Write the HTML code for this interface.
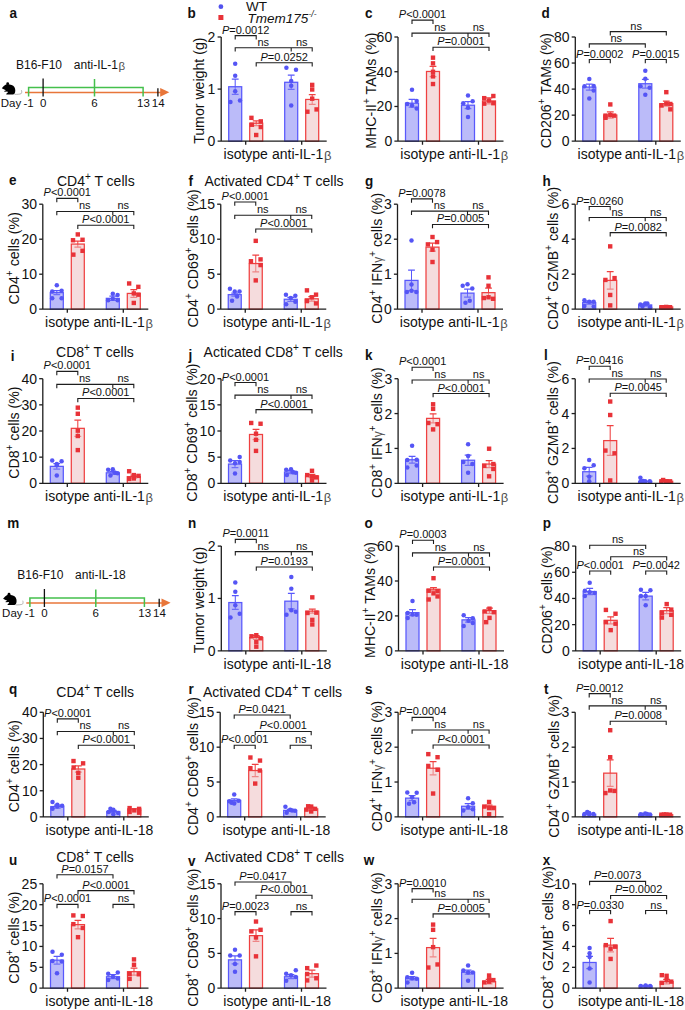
<!DOCTYPE html>
<html><head><meta charset="utf-8"><style>
html,body{margin:0;padding:0;background:#fff;}
svg{display:block;font-family:"Liberation Sans", sans-serif;}
</style></head><body>
<svg width="685" height="1010" viewBox="0 0 685 1010">
<rect width="685" height="1010" fill="#fff"/>
<path d="M235.20 79.07V94.39" stroke="#5858fc" stroke-width="1.05" fill="none"/>
<path d="M231.80 79.07H238.60M231.80 94.39H238.60" stroke="#5858fc" stroke-width="1.25" fill="none"/>
<rect x="228.70" y="86.73" width="13.00" height="54.47" fill="rgb(131,131,244)" fill-opacity="0.55" stroke="#5858fc" stroke-width="1.25"/>
<path d="M256.20 120.91V125.51" stroke="#ef4040" stroke-width="1.05" fill="none"/>
<path d="M252.80 120.91H259.60M252.80 125.51H259.60" stroke="#ef4040" stroke-width="1.25" fill="none"/>
<rect x="249.70" y="123.21" width="13.00" height="17.99" fill="rgb(237,191,193)" fill-opacity="0.55" stroke="#ef4040" stroke-width="1.25"/>
<path d="M291.20 75.23V89.34" stroke="#5858fc" stroke-width="1.05" fill="none"/>
<path d="M287.80 75.23H294.60M287.80 89.34H294.60" stroke="#5858fc" stroke-width="1.25" fill="none"/>
<rect x="284.70" y="82.28" width="13.00" height="58.92" fill="rgb(131,131,244)" fill-opacity="0.55" stroke="#5858fc" stroke-width="1.25"/>
<path d="M312.20 94.55V104.36" stroke="#ef4040" stroke-width="1.05" fill="none"/>
<path d="M308.80 94.55H315.60M308.80 104.36H315.60" stroke="#ef4040" stroke-width="1.25" fill="none"/>
<rect x="305.70" y="99.45" width="13.00" height="41.75" fill="rgb(237,191,193)" fill-opacity="0.55" stroke="#ef4040" stroke-width="1.25"/>
<circle cx="235.20" cy="63.74" r="2.25" fill="#5555f5"/>
<circle cx="235.20" cy="75.69" r="2.25" fill="#5555f5"/>
<circle cx="235.20" cy="91.33" r="2.25" fill="#5555f5"/>
<circle cx="230.43" cy="102.06" r="2.25" fill="#5555f5"/>
<circle cx="240.00" cy="100.53" r="2.25" fill="#5555f5"/>
<rect x="249.23" y="115.65" width="4.4" height="4.4" fill="#e83238"/>
<rect x="258.58" y="119.17" width="4.4" height="4.4" fill="#e83238"/>
<rect x="249.69" y="122.54" width="4.4" height="4.4" fill="#e83238"/>
<rect x="258.58" y="124.84" width="4.4" height="4.4" fill="#e83238"/>
<rect x="254.00" y="132.81" width="4.4" height="4.4" fill="#e83238"/>
<circle cx="286.40" cy="67.72" r="2.25" fill="#5555f5"/>
<circle cx="296.00" cy="69.87" r="2.25" fill="#5555f5"/>
<circle cx="291.20" cy="81.06" r="2.25" fill="#5555f5"/>
<circle cx="291.20" cy="85.66" r="2.25" fill="#5555f5"/>
<circle cx="291.20" cy="105.58" r="2.25" fill="#5555f5"/>
<rect x="310.00" y="82.69" width="4.4" height="4.4" fill="#e83238"/>
<rect x="310.00" y="87.29" width="4.4" height="4.4" fill="#e83238"/>
<rect x="310.00" y="96.49" width="4.4" height="4.4" fill="#e83238"/>
<rect x="305.20" y="109.52" width="4.4" height="4.4" fill="#e83238"/>
<rect x="314.38" y="107.22" width="4.4" height="4.4" fill="#e83238"/>
<path d="M221.20 37.00V141.20M217.60 141.20H326.70M245.70 141.20v3.6M301.70 141.20v3.6" stroke="#1e1e1e" stroke-width="1.3" fill="none"/>
<text x="215.40" y="146.20" font-size="14" text-anchor="end" fill="#111" >0</text>
<path d="M217.60 89.10H221.20" stroke="#1e1e1e" stroke-width="1.3"/>
<text x="215.40" y="94.10" font-size="14" text-anchor="end" fill="#111" >1</text>
<path d="M217.60 37.00H221.20" stroke="#1e1e1e" stroke-width="1.3"/>
<text x="215.40" y="42.00" font-size="14" text-anchor="end" fill="#111" >2</text>
<text x="245.70" y="159.00" font-size="14" text-anchor="middle" fill="#111" >isotype</text>
<text x="301.70" y="159.00" font-size="14" text-anchor="middle" fill="#111" >anti-IL-1<tspan dx="0.65" dy="1.17" font-size="13" fill="#505050">β</tspan><tspan dy="-1.17"></tspan></text>
<text transform="translate(204.20,90.70) rotate(-90)" font-size="14.15" text-anchor="middle" fill="#111">Tumor weight (g)</text>
<path d="M235.20 39.40V35.60H256.20V39.40" stroke="#1e1e1e" stroke-width="1.1" fill="none"/>
<text x="245.70" y="33.60" font-size="11" text-anchor="middle" fill="#111" ><tspan font-style="italic">P</tspan>=0.0012</text>
<path d="M235.20 51.49V47.69H312.20V51.49M291.20 47.69v3.8" stroke="#1e1e1e" stroke-width="1.1" fill="none"/>
<text x="263.20" y="45.69" font-size="11" text-anchor="middle" fill="#111" >ns</text>
<text x="301.70" y="45.69" font-size="11" text-anchor="middle" fill="#111" >ns</text>
<path d="M256.20 66.50V62.70H312.20V66.50" stroke="#1e1e1e" stroke-width="1.1" fill="none"/>
<text x="284.20" y="60.70" font-size="11" text-anchor="middle" fill="#111" ><tspan font-style="italic">P</tspan>=0.0252</text>
<text transform="translate(187.50,17.50) scale(1,1.09)" font-size="13.5" font-weight="bold" fill="#111">b</text>
<path d="M412.00 99.37V107.04" stroke="#5858fc" stroke-width="1.05" fill="none"/>
<path d="M408.60 99.37H415.40M408.60 107.04H415.40" stroke="#5858fc" stroke-width="1.25" fill="none"/>
<rect x="405.50" y="103.20" width="13.00" height="38.00" fill="rgb(131,131,244)" fill-opacity="0.55" stroke="#5858fc" stroke-width="1.25"/>
<path d="M433.00 66.42V76.53" stroke="#ef4040" stroke-width="1.05" fill="none"/>
<path d="M429.60 66.42H436.40M429.60 76.53H436.40" stroke="#ef4040" stroke-width="1.25" fill="none"/>
<rect x="426.50" y="71.47" width="13.00" height="69.73" fill="rgb(237,191,193)" fill-opacity="0.55" stroke="#ef4040" stroke-width="1.25"/>
<path d="M468.00 101.67V108.72" stroke="#5858fc" stroke-width="1.05" fill="none"/>
<path d="M464.60 101.67H471.40M464.60 108.72H471.40" stroke="#5858fc" stroke-width="1.25" fill="none"/>
<rect x="461.50" y="105.20" width="13.00" height="36.00" fill="rgb(131,131,244)" fill-opacity="0.55" stroke="#5858fc" stroke-width="1.25"/>
<path d="M489.00 97.84V103.97" stroke="#ef4040" stroke-width="1.05" fill="none"/>
<path d="M485.60 97.84H492.40M485.60 103.97H492.40" stroke="#ef4040" stroke-width="1.25" fill="none"/>
<rect x="482.50" y="100.91" width="13.00" height="40.29" fill="rgb(237,191,193)" fill-opacity="0.55" stroke="#ef4040" stroke-width="1.25"/>
<circle cx="412.00" cy="89.87" r="2.25" fill="#5555f5"/>
<circle cx="407.20" cy="103.97" r="2.25" fill="#5555f5"/>
<circle cx="416.70" cy="100.91" r="2.25" fill="#5555f5"/>
<circle cx="416.70" cy="108.57" r="2.25" fill="#5555f5"/>
<circle cx="412.00" cy="105.50" r="2.25" fill="#5555f5"/>
<rect x="430.80" y="55.48" width="4.4" height="4.4" fill="#e83238"/>
<rect x="430.80" y="61.15" width="4.4" height="4.4" fill="#e83238"/>
<rect x="430.80" y="69.58" width="4.4" height="4.4" fill="#e83238"/>
<rect x="430.80" y="74.18" width="4.4" height="4.4" fill="#e83238"/>
<rect x="430.80" y="81.84" width="4.4" height="4.4" fill="#e83238"/>
<circle cx="468.00" cy="95.54" r="2.25" fill="#5555f5"/>
<circle cx="463.20" cy="103.20" r="2.25" fill="#5555f5"/>
<circle cx="472.65" cy="101.21" r="2.25" fill="#5555f5"/>
<circle cx="468.00" cy="107.80" r="2.25" fill="#5555f5"/>
<circle cx="468.00" cy="117.00" r="2.25" fill="#5555f5"/>
<rect x="482.00" y="95.95" width="4.4" height="4.4" fill="#e83238"/>
<rect x="491.14" y="93.80" width="4.4" height="4.4" fill="#e83238"/>
<rect x="486.80" y="98.40" width="4.4" height="4.4" fill="#e83238"/>
<rect x="482.00" y="101.46" width="4.4" height="4.4" fill="#e83238"/>
<rect x="491.14" y="101.00" width="4.4" height="4.4" fill="#e83238"/>
<path d="M398.00 37.00V141.20M394.40 141.20H503.50M422.50 141.20v3.6M478.50 141.20v3.6" stroke="#1e1e1e" stroke-width="1.3" fill="none"/>
<text x="392.20" y="146.20" font-size="14" text-anchor="end" fill="#111" >0</text>
<path d="M394.40 106.47H398.00" stroke="#1e1e1e" stroke-width="1.3"/>
<text x="392.20" y="111.47" font-size="14" text-anchor="end" fill="#111" >20</text>
<path d="M394.40 71.73H398.00" stroke="#1e1e1e" stroke-width="1.3"/>
<text x="392.20" y="76.73" font-size="14" text-anchor="end" fill="#111" >40</text>
<path d="M394.40 37.00H398.00" stroke="#1e1e1e" stroke-width="1.3"/>
<text x="392.20" y="42.00" font-size="14" text-anchor="end" fill="#111" >60</text>
<text x="422.50" y="159.00" font-size="14" text-anchor="middle" fill="#111" >isotype</text>
<text x="478.50" y="159.00" font-size="14" text-anchor="middle" fill="#111" >anti-IL-1<tspan dx="0.65" dy="1.17" font-size="13" fill="#505050">β</tspan><tspan dy="-1.17"></tspan></text>
<text transform="translate(375.50,90.70) rotate(-90)" font-size="14.15" text-anchor="middle" fill="#111">MHC-II<tspan dy="-6" font-size="10">+</tspan><tspan dy="6"> TAMs (%)</tspan></text>
<path d="M412.00 23.93V20.13H433.00V23.93" stroke="#1e1e1e" stroke-width="1.1" fill="none"/>
<text x="422.50" y="18.13" font-size="11" text-anchor="middle" fill="#111" ><tspan font-style="italic">P</tspan>&lt;0.0001</text>
<path d="M412.00 36.96V33.16H489.00V36.96M468.00 33.16v3.8" stroke="#1e1e1e" stroke-width="1.1" fill="none"/>
<text x="440.00" y="31.16" font-size="11" text-anchor="middle" fill="#111" >ns</text>
<text x="478.50" y="31.16" font-size="11" text-anchor="middle" fill="#111" >ns</text>
<path d="M433.00 51.06V47.26H489.00V51.06" stroke="#1e1e1e" stroke-width="1.1" fill="none"/>
<text x="461.00" y="45.26" font-size="11" text-anchor="middle" fill="#111" ><tspan font-style="italic">P</tspan>=0.0001</text>
<text transform="translate(365.00,18.00) scale(1,1.09)" font-size="13.5" font-weight="bold" fill="#111">c</text>
<path d="M589.30 84.04V90.18" stroke="#5858fc" stroke-width="1.05" fill="none"/>
<path d="M585.90 84.04H592.70M585.90 90.18H592.70" stroke="#5858fc" stroke-width="1.25" fill="none"/>
<rect x="582.80" y="87.11" width="13.00" height="54.09" fill="rgb(131,131,244)" fill-opacity="0.55" stroke="#5858fc" stroke-width="1.25"/>
<path d="M610.30 111.94V118.07" stroke="#ef4040" stroke-width="1.05" fill="none"/>
<path d="M606.90 111.94H613.70M606.90 118.07H613.70" stroke="#ef4040" stroke-width="1.25" fill="none"/>
<rect x="603.80" y="115.01" width="13.00" height="26.19" fill="rgb(237,191,193)" fill-opacity="0.55" stroke="#ef4040" stroke-width="1.25"/>
<path d="M645.30 79.45V88.03" stroke="#5858fc" stroke-width="1.05" fill="none"/>
<path d="M641.90 79.45H648.70M641.90 88.03H648.70" stroke="#5858fc" stroke-width="1.25" fill="none"/>
<rect x="638.80" y="83.74" width="13.00" height="57.46" fill="rgb(131,131,244)" fill-opacity="0.55" stroke="#5858fc" stroke-width="1.25"/>
<path d="M666.30 101.21V106.12" stroke="#ef4040" stroke-width="1.05" fill="none"/>
<path d="M662.90 101.21H669.70M662.90 106.12H669.70" stroke="#ef4040" stroke-width="1.25" fill="none"/>
<rect x="659.80" y="103.66" width="13.00" height="37.54" fill="rgb(237,191,193)" fill-opacity="0.55" stroke="#ef4040" stroke-width="1.25"/>
<circle cx="589.30" cy="78.99" r="2.25" fill="#5555f5"/>
<circle cx="584.50" cy="86.19" r="2.25" fill="#5555f5"/>
<circle cx="593.70" cy="85.88" r="2.25" fill="#5555f5"/>
<circle cx="593.70" cy="90.48" r="2.25" fill="#5555f5"/>
<circle cx="589.30" cy="98.61" r="2.25" fill="#5555f5"/>
<rect x="608.10" y="102.23" width="4.4" height="4.4" fill="#e83238"/>
<rect x="603.30" y="115.57" width="4.4" height="4.4" fill="#e83238"/>
<rect x="611.89" y="113.42" width="4.4" height="4.4" fill="#e83238"/>
<rect x="608.10" y="112.81" width="4.4" height="4.4" fill="#e83238"/>
<rect x="603.30" y="113.42" width="4.4" height="4.4" fill="#e83238"/>
<circle cx="645.30" cy="70.71" r="2.25" fill="#5555f5"/>
<circle cx="645.30" cy="78.68" r="2.25" fill="#5555f5"/>
<circle cx="640.50" cy="86.19" r="2.25" fill="#5555f5"/>
<circle cx="649.65" cy="87.72" r="2.25" fill="#5555f5"/>
<circle cx="645.30" cy="94.77" r="2.25" fill="#5555f5"/>
<rect x="664.10" y="89.97" width="4.4" height="4.4" fill="#e83238"/>
<rect x="659.30" y="103.30" width="4.4" height="4.4" fill="#e83238"/>
<rect x="668.14" y="101.77" width="4.4" height="4.4" fill="#e83238"/>
<rect x="664.10" y="101.46" width="4.4" height="4.4" fill="#e83238"/>
<rect x="668.14" y="107.14" width="4.4" height="4.4" fill="#e83238"/>
<path d="M575.30 37.00V141.20M571.70 141.20H680.80M599.80 141.20v3.6M655.80 141.20v3.6" stroke="#1e1e1e" stroke-width="1.3" fill="none"/>
<text x="569.50" y="146.20" font-size="14" text-anchor="end" fill="#111" >0</text>
<path d="M571.70 115.15H575.30" stroke="#1e1e1e" stroke-width="1.3"/>
<text x="569.50" y="120.15" font-size="14" text-anchor="end" fill="#111" >20</text>
<path d="M571.70 89.10H575.30" stroke="#1e1e1e" stroke-width="1.3"/>
<text x="569.50" y="94.10" font-size="14" text-anchor="end" fill="#111" >40</text>
<path d="M571.70 63.05H575.30" stroke="#1e1e1e" stroke-width="1.3"/>
<text x="569.50" y="68.05" font-size="14" text-anchor="end" fill="#111" >60</text>
<path d="M571.70 37.00H575.30" stroke="#1e1e1e" stroke-width="1.3"/>
<text x="569.50" y="42.00" font-size="14" text-anchor="end" fill="#111" >80</text>
<text x="599.80" y="159.00" font-size="14" text-anchor="middle" fill="#111" >isotype</text>
<text x="654.40" y="159.00" font-size="14" text-anchor="middle" fill="#111" >anti-IL-1<tspan dx="0.65" dy="1.17" font-size="13" fill="#505050">β</tspan><tspan dy="-1.17"></tspan></text>
<text transform="translate(551.10,90.70) rotate(-90)" font-size="14.15" text-anchor="middle" fill="#111">CD206<tspan dy="-6" font-size="10">+</tspan><tspan dy="6"> TAMs (%)</tspan></text>
<path d="M610.30 35.43V31.63H666.30V35.43" stroke="#1e1e1e" stroke-width="1.1" fill="none"/>
<text x="636.10" y="29.63" font-size="11" text-anchor="middle" fill="#111" >ns</text>
<path d="M589.30 47.69V43.89H645.30V47.69" stroke="#1e1e1e" stroke-width="1.1" fill="none"/>
<text x="616.30" y="41.89" font-size="11" text-anchor="middle" fill="#111" >ns</text>
<path d="M589.30 63.32V59.52H610.30V63.32" stroke="#1e1e1e" stroke-width="1.1" fill="none"/>
<text x="599.80" y="57.52" font-size="11" text-anchor="middle" fill="#111" ><tspan font-style="italic">P</tspan>=0.0002</text>
<path d="M645.30 63.32V59.52H666.30V63.32" stroke="#1e1e1e" stroke-width="1.1" fill="none"/>
<text x="655.80" y="57.52" font-size="11" text-anchor="middle" fill="#111" ><tspan font-style="italic">P</tspan>=0.0015</text>
<text transform="translate(541.50,18.00) scale(1,1.09)" font-size="13.5" font-weight="bold" fill="#111">d</text>
<path d="M56.80 290.67V294.66" stroke="#5858fc" stroke-width="1.05" fill="none"/>
<path d="M53.40 290.67H60.20M53.40 294.66H60.20" stroke="#5858fc" stroke-width="1.25" fill="none"/>
<rect x="50.30" y="292.66" width="13.00" height="16.54" fill="rgb(131,131,244)" fill-opacity="0.55" stroke="#5858fc" stroke-width="1.25"/>
<path d="M77.80 241.01V247.14" stroke="#ef4040" stroke-width="1.05" fill="none"/>
<path d="M74.40 241.01H81.20M74.40 247.14H81.20" stroke="#ef4040" stroke-width="1.25" fill="none"/>
<rect x="71.30" y="244.07" width="13.00" height="65.13" fill="rgb(237,191,193)" fill-opacity="0.55" stroke="#ef4040" stroke-width="1.25"/>
<path d="M112.80 296.19V300.48" stroke="#5858fc" stroke-width="1.05" fill="none"/>
<path d="M109.40 296.19H116.20M109.40 300.48H116.20" stroke="#5858fc" stroke-width="1.25" fill="none"/>
<rect x="106.30" y="298.34" width="13.00" height="10.86" fill="rgb(131,131,244)" fill-opacity="0.55" stroke="#5858fc" stroke-width="1.25"/>
<path d="M133.80 289.60V297.26" stroke="#ef4040" stroke-width="1.05" fill="none"/>
<path d="M130.40 289.60H137.20M130.40 297.26H137.20" stroke="#ef4040" stroke-width="1.25" fill="none"/>
<rect x="127.30" y="293.43" width="13.00" height="15.77" fill="rgb(237,191,193)" fill-opacity="0.55" stroke="#ef4040" stroke-width="1.25"/>
<circle cx="56.80" cy="285.15" r="2.25" fill="#5555f5"/>
<circle cx="52.20" cy="291.59" r="2.25" fill="#5555f5"/>
<circle cx="61.60" cy="290.67" r="2.25" fill="#5555f5"/>
<circle cx="52.20" cy="298.34" r="2.25" fill="#5555f5"/>
<circle cx="61.60" cy="298.34" r="2.25" fill="#5555f5"/>
<rect x="75.60" y="232.22" width="4.4" height="4.4" fill="#e83238"/>
<rect x="70.80" y="238.04" width="4.4" height="4.4" fill="#e83238"/>
<rect x="80.35" y="237.58" width="4.4" height="4.4" fill="#e83238"/>
<rect x="80.35" y="248.62" width="4.4" height="4.4" fill="#e83238"/>
<rect x="71.15" y="252.45" width="4.4" height="4.4" fill="#e83238"/>
<circle cx="112.80" cy="293.74" r="2.25" fill="#5555f5"/>
<circle cx="117.60" cy="294.96" r="2.25" fill="#5555f5"/>
<circle cx="108.15" cy="300.33" r="2.25" fill="#5555f5"/>
<circle cx="117.60" cy="300.33" r="2.25" fill="#5555f5"/>
<circle cx="112.80" cy="298.80" r="2.25" fill="#5555f5"/>
<rect x="126.95" y="281.27" width="4.4" height="4.4" fill="#e83238"/>
<rect x="136.14" y="284.64" width="4.4" height="4.4" fill="#e83238"/>
<rect x="131.60" y="291.23" width="4.4" height="4.4" fill="#e83238"/>
<rect x="136.14" y="292.46" width="4.4" height="4.4" fill="#e83238"/>
<rect x="131.60" y="300.73" width="4.4" height="4.4" fill="#e83238"/>
<path d="M42.80 204.20V309.20M39.20 309.20H148.30M67.30 309.20v3.6M123.30 309.20v3.6" stroke="#1e1e1e" stroke-width="1.3" fill="none"/>
<text x="37.00" y="314.20" font-size="14" text-anchor="end" fill="#111" >0</text>
<path d="M39.20 274.20H42.80" stroke="#1e1e1e" stroke-width="1.3"/>
<text x="37.00" y="279.20" font-size="14" text-anchor="end" fill="#111" >10</text>
<path d="M39.20 239.20H42.80" stroke="#1e1e1e" stroke-width="1.3"/>
<text x="37.00" y="244.20" font-size="14" text-anchor="end" fill="#111" >20</text>
<path d="M39.20 204.20H42.80" stroke="#1e1e1e" stroke-width="1.3"/>
<text x="37.00" y="209.20" font-size="14" text-anchor="end" fill="#111" >30</text>
<text x="67.30" y="327.00" font-size="14" text-anchor="middle" fill="#111" >isotype</text>
<text x="123.30" y="327.00" font-size="14" text-anchor="middle" fill="#111" >anti-IL-1<tspan dx="0.65" dy="1.17" font-size="13" fill="#505050">β</tspan><tspan dy="-1.17"></tspan></text>
<text transform="translate(18.70,258.30) rotate(-90)" font-size="14.15" text-anchor="middle" fill="#111">CD4<tspan dy="-6" font-size="10">+</tspan><tspan dy="6"> cells (%)</tspan></text>
<path d="M56.80 202.20V198.40H77.80V202.20" stroke="#1e1e1e" stroke-width="1.1" fill="none"/>
<text x="67.30" y="196.40" font-size="11" text-anchor="middle" fill="#111" ><tspan font-style="italic">P</tspan>&lt;0.0001</text>
<path d="M56.80 215.23V211.43H133.80V215.23M112.80 211.43v3.8" stroke="#1e1e1e" stroke-width="1.1" fill="none"/>
<text x="84.80" y="209.43" font-size="11" text-anchor="middle" fill="#111" >ns</text>
<text x="123.30" y="209.43" font-size="11" text-anchor="middle" fill="#111" >ns</text>
<path d="M77.80 229.03V225.23H133.80V229.03" stroke="#1e1e1e" stroke-width="1.1" fill="none"/>
<text x="105.80" y="223.23" font-size="11" text-anchor="middle" fill="#111" ><tspan font-style="italic">P</tspan>&lt;0.0001</text>
<text transform="translate(9.00,185.40) scale(1,1.09)" font-size="13.5" font-weight="bold" fill="#111">e</text>
<text x="95.80" y="186.00" font-size="14" text-anchor="middle" fill="#111" >CD4<tspan dy="-6" font-size="10">+</tspan><tspan dy="6"> T cells</tspan></text>
<path d="M234.75 293.12V296.19" stroke="#5858fc" stroke-width="1.05" fill="none"/>
<path d="M231.35 293.12H238.15M231.35 296.19H238.15" stroke="#5858fc" stroke-width="1.25" fill="none"/>
<rect x="228.25" y="294.66" width="13.00" height="14.54" fill="rgb(131,131,244)" fill-opacity="0.55" stroke="#5858fc" stroke-width="1.25"/>
<path d="M255.75 255.11V271.97" stroke="#ef4040" stroke-width="1.05" fill="none"/>
<path d="M252.35 255.11H259.15M252.35 271.97H259.15" stroke="#ef4040" stroke-width="1.25" fill="none"/>
<rect x="249.25" y="263.54" width="13.00" height="45.66" fill="rgb(237,191,193)" fill-opacity="0.55" stroke="#ef4040" stroke-width="1.25"/>
<path d="M290.75 297.26V301.25" stroke="#5858fc" stroke-width="1.05" fill="none"/>
<path d="M287.35 297.26H294.15M287.35 301.25H294.15" stroke="#5858fc" stroke-width="1.25" fill="none"/>
<rect x="284.25" y="299.26" width="13.00" height="9.94" fill="rgb(131,131,244)" fill-opacity="0.55" stroke="#5858fc" stroke-width="1.25"/>
<path d="M311.75 296.50V301.09" stroke="#ef4040" stroke-width="1.05" fill="none"/>
<path d="M308.35 296.50H315.15M308.35 301.09H315.15" stroke="#ef4040" stroke-width="1.25" fill="none"/>
<rect x="305.25" y="298.80" width="13.00" height="10.40" fill="rgb(237,191,193)" fill-opacity="0.55" stroke="#ef4040" stroke-width="1.25"/>
<circle cx="229.95" cy="288.83" r="2.25" fill="#5555f5"/>
<circle cx="234.75" cy="291.59" r="2.25" fill="#5555f5"/>
<circle cx="239.55" cy="291.59" r="2.25" fill="#5555f5"/>
<circle cx="237.09" cy="296.50" r="2.25" fill="#5555f5"/>
<circle cx="232.04" cy="300.79" r="2.25" fill="#5555f5"/>
<rect x="253.55" y="238.65" width="4.4" height="4.4" fill="#e83238"/>
<rect x="248.75" y="259.04" width="4.4" height="4.4" fill="#e83238"/>
<rect x="258.35" y="257.20" width="4.4" height="4.4" fill="#e83238"/>
<rect x="258.35" y="262.87" width="4.4" height="4.4" fill="#e83238"/>
<rect x="253.55" y="278.20" width="4.4" height="4.4" fill="#e83238"/>
<circle cx="285.95" cy="294.66" r="2.25" fill="#5555f5"/>
<circle cx="295.34" cy="295.73" r="2.25" fill="#5555f5"/>
<circle cx="290.75" cy="298.03" r="2.25" fill="#5555f5"/>
<circle cx="295.34" cy="301.86" r="2.25" fill="#5555f5"/>
<circle cx="286.15" cy="304.16" r="2.25" fill="#5555f5"/>
<rect x="304.75" y="288.16" width="4.4" height="4.4" fill="#e83238"/>
<rect x="313.84" y="292.46" width="4.4" height="4.4" fill="#e83238"/>
<rect x="309.55" y="295.06" width="4.4" height="4.4" fill="#e83238"/>
<rect x="304.75" y="298.89" width="4.4" height="4.4" fill="#e83238"/>
<rect x="313.84" y="301.19" width="4.4" height="4.4" fill="#e83238"/>
<path d="M220.75 204.20V309.20M217.15 309.20H326.25M245.25 309.20v3.6M301.25 309.20v3.6" stroke="#1e1e1e" stroke-width="1.3" fill="none"/>
<text x="214.95" y="314.20" font-size="14" text-anchor="end" fill="#111" >0</text>
<path d="M217.15 274.20H220.75" stroke="#1e1e1e" stroke-width="1.3"/>
<text x="214.95" y="279.20" font-size="14" text-anchor="end" fill="#111" >5</text>
<path d="M217.15 239.20H220.75" stroke="#1e1e1e" stroke-width="1.3"/>
<text x="214.95" y="244.20" font-size="14" text-anchor="end" fill="#111" >10</text>
<path d="M217.15 204.20H220.75" stroke="#1e1e1e" stroke-width="1.3"/>
<text x="214.95" y="209.20" font-size="14" text-anchor="end" fill="#111" >15</text>
<text x="245.25" y="327.00" font-size="14" text-anchor="middle" fill="#111" >isotype</text>
<text x="301.25" y="327.00" font-size="14" text-anchor="middle" fill="#111" >anti-IL-1<tspan dx="0.65" dy="1.17" font-size="13" fill="#505050">β</tspan><tspan dy="-1.17"></tspan></text>
<text transform="translate(198.45,258.30) rotate(-90)" font-size="14.15" text-anchor="middle" fill="#111">CD4<tspan dy="-6" font-size="10">+</tspan><tspan dy="6"> CD69</tspan><tspan dy="-6" font-size="10">+</tspan><tspan dy="6"> cells (%)</tspan></text>
<path d="M234.75 205.73V201.93H255.75V205.73" stroke="#1e1e1e" stroke-width="1.1" fill="none"/>
<text x="245.25" y="199.93" font-size="11" text-anchor="middle" fill="#111" ><tspan font-style="italic">P</tspan>&lt;0.0001</text>
<path d="M234.75 219.06V215.26H311.75V219.06M290.75 215.26v3.8" stroke="#1e1e1e" stroke-width="1.1" fill="none"/>
<text x="262.75" y="213.26" font-size="11" text-anchor="middle" fill="#111" >ns</text>
<text x="301.25" y="213.26" font-size="11" text-anchor="middle" fill="#111" >ns</text>
<path d="M255.75 232.86V229.06H311.75V232.86" stroke="#1e1e1e" stroke-width="1.1" fill="none"/>
<text x="283.75" y="227.06" font-size="11" text-anchor="middle" fill="#111" ><tspan font-style="italic">P</tspan>&lt;0.0001</text>
<text transform="translate(188.50,185.60) scale(1,1.09)" font-size="13.5" font-weight="bold" fill="#111">f</text>
<text x="274.00" y="185.80" font-size="14" text-anchor="middle" fill="#111" >Activated CD4<tspan dy="-6" font-size="10">+</tspan><tspan dy="6"> T cells</tspan></text>
<path d="M411.50 270.13V290.67" stroke="#5858fc" stroke-width="1.05" fill="none"/>
<path d="M408.10 270.13H414.90M408.10 290.67H414.90" stroke="#5858fc" stroke-width="1.25" fill="none"/>
<rect x="405.00" y="280.40" width="13.00" height="28.80" fill="rgb(131,131,244)" fill-opacity="0.55" stroke="#5858fc" stroke-width="1.25"/>
<path d="M432.50 243.15V251.12" stroke="#ef4040" stroke-width="1.05" fill="none"/>
<path d="M429.10 243.15H435.90M429.10 251.12H435.90" stroke="#ef4040" stroke-width="1.25" fill="none"/>
<rect x="426.00" y="247.14" width="13.00" height="62.06" fill="rgb(237,191,193)" fill-opacity="0.55" stroke="#ef4040" stroke-width="1.25"/>
<path d="M467.50 289.14V297.11" stroke="#5858fc" stroke-width="1.05" fill="none"/>
<path d="M464.10 289.14H470.90M464.10 297.11H470.90" stroke="#5858fc" stroke-width="1.25" fill="none"/>
<rect x="461.00" y="293.12" width="13.00" height="16.08" fill="rgb(131,131,244)" fill-opacity="0.55" stroke="#5858fc" stroke-width="1.25"/>
<path d="M488.50 288.07V297.26" stroke="#ef4040" stroke-width="1.05" fill="none"/>
<path d="M485.10 288.07H491.90M485.10 297.26H491.90" stroke="#ef4040" stroke-width="1.25" fill="none"/>
<rect x="482.00" y="292.66" width="13.00" height="16.54" fill="rgb(237,191,193)" fill-opacity="0.55" stroke="#ef4040" stroke-width="1.25"/>
<circle cx="411.50" cy="240.55" r="2.25" fill="#5555f5"/>
<circle cx="411.50" cy="284.54" r="2.25" fill="#5555f5"/>
<circle cx="406.89" cy="291.90" r="2.25" fill="#5555f5"/>
<circle cx="411.50" cy="290.67" r="2.25" fill="#5555f5"/>
<circle cx="416.30" cy="291.90" r="2.25" fill="#5555f5"/>
<rect x="430.30" y="234.82" width="4.4" height="4.4" fill="#e83238"/>
<rect x="434.89" y="239.88" width="4.4" height="4.4" fill="#e83238"/>
<rect x="425.69" y="242.18" width="4.4" height="4.4" fill="#e83238"/>
<rect x="430.30" y="247.54" width="4.4" height="4.4" fill="#e83238"/>
<rect x="430.30" y="259.81" width="4.4" height="4.4" fill="#e83238"/>
<circle cx="462.70" cy="285.77" r="2.25" fill="#5555f5"/>
<circle cx="467.50" cy="284.23" r="2.25" fill="#5555f5"/>
<circle cx="472.30" cy="288.53" r="2.25" fill="#5555f5"/>
<circle cx="465.45" cy="302.63" r="2.25" fill="#5555f5"/>
<circle cx="469.74" cy="300.79" r="2.25" fill="#5555f5"/>
<rect x="486.30" y="275.14" width="4.4" height="4.4" fill="#e83238"/>
<rect x="486.30" y="283.57" width="4.4" height="4.4" fill="#e83238"/>
<rect x="481.64" y="295.83" width="4.4" height="4.4" fill="#e83238"/>
<rect x="490.84" y="296.60" width="4.4" height="4.4" fill="#e83238"/>
<rect x="486.30" y="295.06" width="4.4" height="4.4" fill="#e83238"/>
<path d="M397.50 204.20V309.20M393.90 309.20H503.00M422.00 309.20v3.6M478.00 309.20v3.6" stroke="#1e1e1e" stroke-width="1.3" fill="none"/>
<text x="391.70" y="314.20" font-size="14" text-anchor="end" fill="#111" >0</text>
<path d="M393.90 274.20H397.50" stroke="#1e1e1e" stroke-width="1.3"/>
<text x="391.70" y="279.20" font-size="14" text-anchor="end" fill="#111" >1</text>
<path d="M393.90 239.20H397.50" stroke="#1e1e1e" stroke-width="1.3"/>
<text x="391.70" y="244.20" font-size="14" text-anchor="end" fill="#111" >2</text>
<path d="M393.90 204.20H397.50" stroke="#1e1e1e" stroke-width="1.3"/>
<text x="391.70" y="209.20" font-size="14" text-anchor="end" fill="#111" >3</text>
<text x="422.00" y="327.00" font-size="14" text-anchor="middle" fill="#111" >isotype</text>
<text x="478.00" y="327.00" font-size="14" text-anchor="middle" fill="#111" >anti-IL-1<tspan dx="0.65" dy="1.17" font-size="13" fill="#505050">β</tspan><tspan dy="-1.17"></tspan></text>
<text transform="translate(381.50,258.30) rotate(-90)" font-size="14.15" text-anchor="middle" fill="#111">CD4<tspan dy="-6" font-size="10">+</tspan><tspan dy="6"> IFN</tspan><tspan dy="0" font-size="12" fill="#555">γ</tspan><tspan dy="-6" font-size="10">+</tspan><tspan dy="6"> cells (%)</tspan></text>
<path d="M411.50 202.66V198.86H432.50V202.66" stroke="#1e1e1e" stroke-width="1.1" fill="none"/>
<text x="422.00" y="196.86" font-size="11" text-anchor="middle" fill="#111" ><tspan font-style="italic">P</tspan>=0.0078</text>
<path d="M411.50 214.92V211.12H488.50V214.92M467.50 211.12v3.8" stroke="#1e1e1e" stroke-width="1.1" fill="none"/>
<text x="439.50" y="209.12" font-size="11" text-anchor="middle" fill="#111" >ns</text>
<text x="478.00" y="209.12" font-size="11" text-anchor="middle" fill="#111" >ns</text>
<path d="M432.50 228.26V224.46H488.50V228.26" stroke="#1e1e1e" stroke-width="1.1" fill="none"/>
<text x="460.50" y="222.46" font-size="11" text-anchor="middle" fill="#111" ><tspan font-style="italic">P</tspan>=0.0005</text>
<text transform="translate(365.00,185.60) scale(1,1.09)" font-size="13.5" font-weight="bold" fill="#111">g</text>
<path d="M589.20 301.09V304.16" stroke="#5858fc" stroke-width="1.05" fill="none"/>
<path d="M585.80 301.09H592.60M585.80 304.16H592.60" stroke="#5858fc" stroke-width="1.25" fill="none"/>
<rect x="582.70" y="302.63" width="13.00" height="6.57" fill="rgb(131,131,244)" fill-opacity="0.55" stroke="#5858fc" stroke-width="1.25"/>
<path d="M610.20 271.66V289.14" stroke="#ef4040" stroke-width="1.05" fill="none"/>
<path d="M606.80 271.66H613.60M606.80 289.14H613.60" stroke="#ef4040" stroke-width="1.25" fill="none"/>
<rect x="603.70" y="280.40" width="13.00" height="28.80" fill="rgb(237,191,193)" fill-opacity="0.55" stroke="#ef4040" stroke-width="1.25"/>
<path d="M645.20 303.85V306.00" stroke="#5858fc" stroke-width="1.05" fill="none"/>
<path d="M641.80 303.85H648.60M641.80 306.00H648.60" stroke="#5858fc" stroke-width="1.25" fill="none"/>
<rect x="638.70" y="304.93" width="13.00" height="4.27" fill="rgb(131,131,244)" fill-opacity="0.55" stroke="#5858fc" stroke-width="1.25"/>
<rect x="659.70" y="306.92" width="13.00" height="2.28" fill="rgb(237,191,193)" fill-opacity="0.55" stroke="#ef4040" stroke-width="1.25"/>
<circle cx="584.40" cy="300.33" r="2.25" fill="#5555f5"/>
<circle cx="589.20" cy="301.86" r="2.25" fill="#5555f5"/>
<circle cx="593.70" cy="301.86" r="2.25" fill="#5555f5"/>
<circle cx="584.40" cy="306.00" r="2.25" fill="#5555f5"/>
<circle cx="593.70" cy="306.46" r="2.25" fill="#5555f5"/>
<rect x="608.00" y="244.17" width="4.4" height="4.4" fill="#e83238"/>
<rect x="603.20" y="277.74" width="4.4" height="4.4" fill="#e83238"/>
<rect x="612.35" y="275.90" width="4.4" height="4.4" fill="#e83238"/>
<rect x="608.00" y="292.76" width="4.4" height="4.4" fill="#e83238"/>
<rect x="608.00" y="303.19" width="4.4" height="4.4" fill="#e83238"/>
<circle cx="640.40" cy="304.47" r="2.25" fill="#5555f5"/>
<circle cx="645.20" cy="303.39" r="2.25" fill="#5555f5"/>
<circle cx="647.35" cy="303.39" r="2.25" fill="#5555f5"/>
<circle cx="650.00" cy="307.20" r="2.25" fill="#5555f5"/>
<circle cx="642.45" cy="306.46" r="2.25" fill="#5555f5"/>
<rect x="659.20" y="305.00" width="4.4" height="4.4" fill="#e83238"/>
<rect x="664.00" y="304.72" width="4.4" height="4.4" fill="#e83238"/>
<rect x="667.84" y="305.00" width="4.4" height="4.4" fill="#e83238"/>
<rect x="660.94" y="305.00" width="4.4" height="4.4" fill="#e83238"/>
<rect x="664.00" y="305.00" width="4.4" height="4.4" fill="#e83238"/>
<path d="M575.20 204.20V309.20M571.60 309.20H680.70M599.70 309.20v3.6M655.70 309.20v3.6" stroke="#1e1e1e" stroke-width="1.3" fill="none"/>
<text x="569.40" y="314.20" font-size="14" text-anchor="end" fill="#111" >0</text>
<path d="M571.60 274.20H575.20" stroke="#1e1e1e" stroke-width="1.3"/>
<text x="569.40" y="279.20" font-size="14" text-anchor="end" fill="#111" >2</text>
<path d="M571.60 239.20H575.20" stroke="#1e1e1e" stroke-width="1.3"/>
<text x="569.40" y="244.20" font-size="14" text-anchor="end" fill="#111" >4</text>
<path d="M571.60 204.20H575.20" stroke="#1e1e1e" stroke-width="1.3"/>
<text x="569.40" y="209.20" font-size="14" text-anchor="end" fill="#111" >6</text>
<text x="599.70" y="327.00" font-size="14" text-anchor="middle" fill="#111" >isotype</text>
<text x="654.30" y="327.00" font-size="14" text-anchor="middle" fill="#111" >anti-IL-1<tspan dx="0.65" dy="1.17" font-size="13" fill="#505050">β</tspan><tspan dy="-1.17"></tspan></text>
<text transform="translate(558.30,258.30) rotate(-90)" font-size="14.15" text-anchor="middle" fill="#111">CD4<tspan dy="-6" font-size="10">+</tspan><tspan dy="6"> GZMB</tspan><tspan dy="-6" font-size="10">+</tspan><tspan dy="6"> cells (%)</tspan></text>
<path d="M589.20 210.32V206.52H610.20V210.32" stroke="#1e1e1e" stroke-width="1.1" fill="none"/>
<text x="599.70" y="204.52" font-size="11" text-anchor="middle" fill="#111" ><tspan font-style="italic">P</tspan>=0.0260</text>
<path d="M589.20 221.36V217.56H666.20V221.36M645.20 217.56v3.8" stroke="#1e1e1e" stroke-width="1.1" fill="none"/>
<text x="617.20" y="215.56" font-size="11" text-anchor="middle" fill="#111" >ns</text>
<text x="655.70" y="215.56" font-size="11" text-anchor="middle" fill="#111" >ns</text>
<path d="M610.20 236.38V232.58H666.20V236.38" stroke="#1e1e1e" stroke-width="1.1" fill="none"/>
<text x="638.20" y="230.58" font-size="11" text-anchor="middle" fill="#111" ><tspan font-style="italic">P</tspan>=0.0082</text>
<text transform="translate(542.50,185.60) scale(1,1.09)" font-size="13.5" font-weight="bold" fill="#111">h</text>
<path d="M56.80 463.60V469.12" stroke="#5858fc" stroke-width="1.05" fill="none"/>
<path d="M53.40 463.60H60.20M53.40 469.12H60.20" stroke="#5858fc" stroke-width="1.25" fill="none"/>
<rect x="50.30" y="466.36" width="13.00" height="16.94" fill="rgb(131,131,244)" fill-opacity="0.55" stroke="#5858fc" stroke-width="1.25"/>
<path d="M77.80 420.22V436.47" stroke="#ef4040" stroke-width="1.05" fill="none"/>
<path d="M74.40 420.22H81.20M74.40 436.47H81.20" stroke="#ef4040" stroke-width="1.25" fill="none"/>
<rect x="71.30" y="428.34" width="13.00" height="54.96" fill="rgb(237,191,193)" fill-opacity="0.55" stroke="#ef4040" stroke-width="1.25"/>
<path d="M112.80 471.26V474.33" stroke="#5858fc" stroke-width="1.05" fill="none"/>
<path d="M109.40 471.26H116.20M109.40 474.33H116.20" stroke="#5858fc" stroke-width="1.25" fill="none"/>
<rect x="106.30" y="472.80" width="13.00" height="10.50" fill="rgb(131,131,244)" fill-opacity="0.55" stroke="#5858fc" stroke-width="1.25"/>
<path d="M133.80 475.09V478.16" stroke="#ef4040" stroke-width="1.05" fill="none"/>
<path d="M130.40 475.09H137.20M130.40 478.16H137.20" stroke="#ef4040" stroke-width="1.25" fill="none"/>
<rect x="127.30" y="476.63" width="13.00" height="6.67" fill="rgb(237,191,193)" fill-opacity="0.55" stroke="#ef4040" stroke-width="1.25"/>
<circle cx="52.20" cy="460.53" r="2.25" fill="#5555f5"/>
<circle cx="61.60" cy="461.30" r="2.25" fill="#5555f5"/>
<circle cx="56.80" cy="464.06" r="2.25" fill="#5555f5"/>
<circle cx="56.80" cy="465.13" r="2.25" fill="#5555f5"/>
<circle cx="56.80" cy="475.40" r="2.25" fill="#5555f5"/>
<rect x="75.60" y="405.45" width="4.4" height="4.4" fill="#e83238"/>
<rect x="75.60" y="411.58" width="4.4" height="4.4" fill="#e83238"/>
<rect x="75.60" y="428.44" width="4.4" height="4.4" fill="#e83238"/>
<rect x="75.60" y="433.81" width="4.4" height="4.4" fill="#e83238"/>
<rect x="75.60" y="447.91" width="4.4" height="4.4" fill="#e83238"/>
<circle cx="108.15" cy="469.73" r="2.25" fill="#5555f5"/>
<circle cx="112.80" cy="469.27" r="2.25" fill="#5555f5"/>
<circle cx="115.04" cy="472.80" r="2.25" fill="#5555f5"/>
<circle cx="117.60" cy="473.26" r="2.25" fill="#5555f5"/>
<circle cx="110.45" cy="475.40" r="2.25" fill="#5555f5"/>
<rect x="126.95" y="469.06" width="4.4" height="4.4" fill="#e83238"/>
<rect x="131.60" y="472.89" width="4.4" height="4.4" fill="#e83238"/>
<rect x="136.40" y="473.66" width="4.4" height="4.4" fill="#e83238"/>
<rect x="126.95" y="476.73" width="4.4" height="4.4" fill="#e83238"/>
<rect x="131.60" y="476.27" width="4.4" height="4.4" fill="#e83238"/>
<path d="M42.80 378.70V483.30M39.20 483.30H148.30M67.30 483.30v3.6M123.30 483.30v3.6" stroke="#1e1e1e" stroke-width="1.3" fill="none"/>
<text x="37.00" y="488.30" font-size="14" text-anchor="end" fill="#111" >0</text>
<path d="M39.20 457.15H42.80" stroke="#1e1e1e" stroke-width="1.3"/>
<text x="37.00" y="462.15" font-size="14" text-anchor="end" fill="#111" >10</text>
<path d="M39.20 431.00H42.80" stroke="#1e1e1e" stroke-width="1.3"/>
<text x="37.00" y="436.00" font-size="14" text-anchor="end" fill="#111" >20</text>
<path d="M39.20 404.85H42.80" stroke="#1e1e1e" stroke-width="1.3"/>
<text x="37.00" y="409.85" font-size="14" text-anchor="end" fill="#111" >30</text>
<path d="M39.20 378.70H42.80" stroke="#1e1e1e" stroke-width="1.3"/>
<text x="37.00" y="383.70" font-size="14" text-anchor="end" fill="#111" >40</text>
<text x="67.30" y="501.10" font-size="14" text-anchor="middle" fill="#111" >isotype</text>
<text x="123.30" y="501.10" font-size="14" text-anchor="middle" fill="#111" >anti-IL-1<tspan dx="0.65" dy="1.17" font-size="13" fill="#505050">β</tspan><tspan dy="-1.17"></tspan></text>
<text transform="translate(19.00,432.60) rotate(-90)" font-size="14.15" text-anchor="middle" fill="#111">CD8<tspan dy="-6" font-size="10">+</tspan><tspan dy="6"> cells (%)</tspan></text>
<path d="M56.80 375.13V371.33H77.80V375.13" stroke="#1e1e1e" stroke-width="1.1" fill="none"/>
<text x="67.30" y="369.33" font-size="11" text-anchor="middle" fill="#111" ><tspan font-style="italic">P</tspan>&lt;0.0001</text>
<path d="M56.80 388.16V384.36H133.80V388.16M112.80 384.36v3.8" stroke="#1e1e1e" stroke-width="1.1" fill="none"/>
<text x="84.80" y="382.36" font-size="11" text-anchor="middle" fill="#111" >ns</text>
<text x="123.30" y="382.36" font-size="11" text-anchor="middle" fill="#111" >ns</text>
<path d="M77.80 402.26V398.46H133.80V402.26" stroke="#1e1e1e" stroke-width="1.1" fill="none"/>
<text x="105.80" y="396.46" font-size="11" text-anchor="middle" fill="#111" ><tspan font-style="italic">P</tspan>&lt;0.0001</text>
<text transform="translate(10.70,360.80) scale(1,1.09)" font-size="13.5" font-weight="bold" fill="#111">i</text>
<text x="94.90" y="356.70" font-size="14" text-anchor="middle" fill="#111" >CD8<tspan dy="-6" font-size="10">+</tspan><tspan dy="6"> T cells</tspan></text>
<path d="M235.00 460.53V467.58" stroke="#5858fc" stroke-width="1.05" fill="none"/>
<path d="M231.60 460.53H238.40M231.60 467.58H238.40" stroke="#5858fc" stroke-width="1.25" fill="none"/>
<rect x="228.50" y="464.06" width="13.00" height="19.24" fill="rgb(131,131,244)" fill-opacity="0.55" stroke="#5858fc" stroke-width="1.25"/>
<path d="M256.00 429.42V439.53" stroke="#ef4040" stroke-width="1.05" fill="none"/>
<path d="M252.60 429.42H259.40M252.60 439.53H259.40" stroke="#ef4040" stroke-width="1.25" fill="none"/>
<rect x="249.50" y="434.47" width="13.00" height="48.83" fill="rgb(237,191,193)" fill-opacity="0.55" stroke="#ef4040" stroke-width="1.25"/>
<path d="M291.00 470.50V473.56" stroke="#5858fc" stroke-width="1.05" fill="none"/>
<path d="M287.60 470.50H294.40M287.60 473.56H294.40" stroke="#5858fc" stroke-width="1.25" fill="none"/>
<rect x="284.50" y="472.03" width="13.00" height="11.27" fill="rgb(131,131,244)" fill-opacity="0.55" stroke="#5858fc" stroke-width="1.25"/>
<path d="M312.00 474.33V477.39" stroke="#ef4040" stroke-width="1.05" fill="none"/>
<path d="M308.60 474.33H315.40M308.60 477.39H315.40" stroke="#ef4040" stroke-width="1.25" fill="none"/>
<rect x="305.50" y="475.86" width="13.00" height="7.44" fill="rgb(237,191,193)" fill-opacity="0.55" stroke="#ef4040" stroke-width="1.25"/>
<circle cx="230.20" cy="460.53" r="2.25" fill="#5555f5"/>
<circle cx="239.70" cy="457.01" r="2.25" fill="#5555f5"/>
<circle cx="235.00" cy="463.14" r="2.25" fill="#5555f5"/>
<circle cx="239.70" cy="462.07" r="2.25" fill="#5555f5"/>
<circle cx="235.00" cy="473.56" r="2.25" fill="#5555f5"/>
<rect x="249.00" y="420.78" width="4.4" height="4.4" fill="#e83238"/>
<rect x="258.35" y="421.54" width="4.4" height="4.4" fill="#e83238"/>
<rect x="253.80" y="431.51" width="4.4" height="4.4" fill="#e83238"/>
<rect x="253.80" y="437.64" width="4.4" height="4.4" fill="#e83238"/>
<rect x="253.80" y="448.68" width="4.4" height="4.4" fill="#e83238"/>
<circle cx="286.20" cy="469.73" r="2.25" fill="#5555f5"/>
<circle cx="291.00" cy="469.27" r="2.25" fill="#5555f5"/>
<circle cx="293.04" cy="472.34" r="2.25" fill="#5555f5"/>
<circle cx="295.80" cy="472.80" r="2.25" fill="#5555f5"/>
<circle cx="286.91" cy="475.09" r="2.25" fill="#5555f5"/>
<rect x="309.80" y="468.60" width="4.4" height="4.4" fill="#e83238"/>
<rect x="305.00" y="472.89" width="4.4" height="4.4" fill="#e83238"/>
<rect x="313.84" y="475.19" width="4.4" height="4.4" fill="#e83238"/>
<rect x="309.80" y="474.43" width="4.4" height="4.4" fill="#e83238"/>
<rect x="309.80" y="478.26" width="4.4" height="4.4" fill="#e83238"/>
<path d="M221.00 378.70V483.30M217.40 483.30H326.50M245.50 483.30v3.6M301.50 483.30v3.6" stroke="#1e1e1e" stroke-width="1.3" fill="none"/>
<text x="215.20" y="488.30" font-size="14" text-anchor="end" fill="#111" >0</text>
<path d="M217.40 457.15H221.00" stroke="#1e1e1e" stroke-width="1.3"/>
<text x="215.20" y="462.15" font-size="14" text-anchor="end" fill="#111" >5</text>
<path d="M217.40 431.00H221.00" stroke="#1e1e1e" stroke-width="1.3"/>
<text x="215.20" y="436.00" font-size="14" text-anchor="end" fill="#111" >10</text>
<path d="M217.40 404.85H221.00" stroke="#1e1e1e" stroke-width="1.3"/>
<text x="215.20" y="409.85" font-size="14" text-anchor="end" fill="#111" >15</text>
<path d="M217.40 378.70H221.00" stroke="#1e1e1e" stroke-width="1.3"/>
<text x="215.20" y="383.70" font-size="14" text-anchor="end" fill="#111" >20</text>
<text x="245.50" y="501.10" font-size="14" text-anchor="middle" fill="#111" >isotype</text>
<text x="301.50" y="501.10" font-size="14" text-anchor="middle" fill="#111" >anti-IL-1<tspan dx="0.65" dy="1.17" font-size="13" fill="#505050">β</tspan><tspan dy="-1.17"></tspan></text>
<text transform="translate(197.20,432.60) rotate(-90)" font-size="14.15" text-anchor="middle" fill="#111">CD8<tspan dy="-6" font-size="10">+</tspan><tspan dy="6"> CD69</tspan><tspan dy="-6" font-size="10">+</tspan><tspan dy="6"> cells (%)</tspan></text>
<path d="M235.00 386.32V382.52H256.00V386.32" stroke="#1e1e1e" stroke-width="1.1" fill="none"/>
<text x="245.50" y="380.52" font-size="11" text-anchor="middle" fill="#111" ><tspan font-style="italic">P</tspan>&lt;0.0001</text>
<path d="M235.00 398.89V395.09H312.00V398.89M291.00 395.09v3.8" stroke="#1e1e1e" stroke-width="1.1" fill="none"/>
<text x="263.00" y="393.09" font-size="11" text-anchor="middle" fill="#111" >ns</text>
<text x="301.50" y="393.09" font-size="11" text-anchor="middle" fill="#111" >ns</text>
<path d="M256.00 413.45V409.65H312.00V413.45" stroke="#1e1e1e" stroke-width="1.1" fill="none"/>
<text x="284.00" y="407.65" font-size="11" text-anchor="middle" fill="#111" ><tspan font-style="italic">P</tspan>&lt;0.0001</text>
<text transform="translate(188.50,360.40) scale(1,1.09)" font-size="13.5" font-weight="bold" fill="#111">j</text>
<text x="273.20" y="356.90" font-size="14" text-anchor="middle" fill="#111" >Acticated CD8<tspan dy="-6" font-size="10">+</tspan><tspan dy="6"> T cells</tspan></text>
<path d="M412.10 456.39V463.14" stroke="#5858fc" stroke-width="1.05" fill="none"/>
<path d="M408.70 456.39H415.50M408.70 463.14H415.50" stroke="#5858fc" stroke-width="1.25" fill="none"/>
<rect x="405.60" y="459.77" width="13.00" height="23.53" fill="rgb(131,131,244)" fill-opacity="0.55" stroke="#5858fc" stroke-width="1.25"/>
<path d="M433.10 413.78V422.98" stroke="#ef4040" stroke-width="1.05" fill="none"/>
<path d="M429.70 413.78H436.50M429.70 422.98H436.50" stroke="#ef4040" stroke-width="1.25" fill="none"/>
<rect x="426.60" y="418.38" width="13.00" height="64.92" fill="rgb(237,191,193)" fill-opacity="0.55" stroke="#ef4040" stroke-width="1.25"/>
<path d="M468.10 455.17V465.28" stroke="#5858fc" stroke-width="1.05" fill="none"/>
<path d="M464.70 455.17H471.50M464.70 465.28H471.50" stroke="#5858fc" stroke-width="1.25" fill="none"/>
<rect x="461.60" y="460.23" width="13.00" height="23.07" fill="rgb(131,131,244)" fill-opacity="0.55" stroke="#5858fc" stroke-width="1.25"/>
<path d="M489.10 460.53V467.58" stroke="#ef4040" stroke-width="1.05" fill="none"/>
<path d="M485.70 460.53H492.50M485.70 467.58H492.50" stroke="#ef4040" stroke-width="1.25" fill="none"/>
<rect x="482.60" y="464.06" width="13.00" height="19.24" fill="rgb(237,191,193)" fill-opacity="0.55" stroke="#ef4040" stroke-width="1.25"/>
<circle cx="412.10" cy="445.66" r="2.25" fill="#5555f5"/>
<circle cx="407.30" cy="460.07" r="2.25" fill="#5555f5"/>
<circle cx="416.70" cy="459.77" r="2.25" fill="#5555f5"/>
<circle cx="407.30" cy="467.43" r="2.25" fill="#5555f5"/>
<circle cx="416.70" cy="465.59" r="2.25" fill="#5555f5"/>
<rect x="430.90" y="402.08" width="4.4" height="4.4" fill="#e83238"/>
<rect x="430.90" y="406.68" width="4.4" height="4.4" fill="#e83238"/>
<rect x="426.10" y="420.78" width="4.4" height="4.4" fill="#e83238"/>
<rect x="435.35" y="422.00" width="4.4" height="4.4" fill="#e83238"/>
<rect x="430.90" y="427.22" width="4.4" height="4.4" fill="#e83238"/>
<circle cx="468.10" cy="444.13" r="2.25" fill="#5555f5"/>
<circle cx="468.10" cy="455.93" r="2.25" fill="#5555f5"/>
<circle cx="463.30" cy="462.07" r="2.25" fill="#5555f5"/>
<circle cx="472.34" cy="464.06" r="2.25" fill="#5555f5"/>
<circle cx="468.10" cy="472.80" r="2.25" fill="#5555f5"/>
<rect x="486.90" y="446.53" width="4.4" height="4.4" fill="#e83238"/>
<rect x="482.10" y="463.70" width="4.4" height="4.4" fill="#e83238"/>
<rect x="491.14" y="461.86" width="4.4" height="4.4" fill="#e83238"/>
<rect x="491.14" y="466.76" width="4.4" height="4.4" fill="#e83238"/>
<rect x="486.90" y="474.12" width="4.4" height="4.4" fill="#e83238"/>
<path d="M398.10 378.70V483.30M394.50 483.30H503.60M422.60 483.30v3.6M478.60 483.30v3.6" stroke="#1e1e1e" stroke-width="1.3" fill="none"/>
<text x="392.30" y="488.30" font-size="14" text-anchor="end" fill="#111" >0</text>
<path d="M394.50 448.43H398.10" stroke="#1e1e1e" stroke-width="1.3"/>
<text x="392.30" y="453.43" font-size="14" text-anchor="end" fill="#111" >1</text>
<path d="M394.50 413.57H398.10" stroke="#1e1e1e" stroke-width="1.3"/>
<text x="392.30" y="418.57" font-size="14" text-anchor="end" fill="#111" >2</text>
<path d="M394.50 378.70H398.10" stroke="#1e1e1e" stroke-width="1.3"/>
<text x="392.30" y="383.70" font-size="14" text-anchor="end" fill="#111" >3</text>
<text x="422.60" y="501.10" font-size="14" text-anchor="middle" fill="#111" >isotype</text>
<text x="478.60" y="501.10" font-size="14" text-anchor="middle" fill="#111" >anti-IL-1<tspan dx="0.65" dy="1.17" font-size="13" fill="#505050">β</tspan><tspan dy="-1.17"></tspan></text>
<text transform="translate(381.50,432.60) rotate(-90)" font-size="14.15" text-anchor="middle" fill="#111">CD8<tspan dy="-6" font-size="10">+</tspan><tspan dy="6"> IFN</tspan><tspan dy="0" font-size="12" fill="#555">γ</tspan><tspan dy="-6" font-size="10">+</tspan><tspan dy="6"> cells (%)</tspan></text>
<path d="M412.10 370.99V367.19H433.10V370.99" stroke="#1e1e1e" stroke-width="1.1" fill="none"/>
<text x="422.60" y="365.19" font-size="11" text-anchor="middle" fill="#111" ><tspan font-style="italic">P</tspan>&lt;0.0001</text>
<path d="M412.10 383.86V380.06H489.10V383.86M468.10 380.06v3.8" stroke="#1e1e1e" stroke-width="1.1" fill="none"/>
<text x="440.10" y="378.06" font-size="11" text-anchor="middle" fill="#111" >ns</text>
<text x="478.60" y="378.06" font-size="11" text-anchor="middle" fill="#111" >ns</text>
<path d="M433.10 397.35V393.55H489.10V397.35" stroke="#1e1e1e" stroke-width="1.1" fill="none"/>
<text x="461.10" y="391.55" font-size="11" text-anchor="middle" fill="#111" ><tspan font-style="italic">P</tspan>&lt;0.0001</text>
<text transform="translate(365.00,360.10) scale(1,1.09)" font-size="13.5" font-weight="bold" fill="#111">k</text>
<path d="M589.20 467.43V476.01" stroke="#5858fc" stroke-width="1.05" fill="none"/>
<path d="M585.80 467.43H592.60M585.80 476.01H592.60" stroke="#5858fc" stroke-width="1.25" fill="none"/>
<rect x="582.70" y="471.72" width="13.00" height="11.58" fill="rgb(131,131,244)" fill-opacity="0.55" stroke="#5858fc" stroke-width="1.25"/>
<path d="M610.20 425.74V455.47" stroke="#ef4040" stroke-width="1.05" fill="none"/>
<path d="M606.80 425.74H613.60M606.80 455.47H613.60" stroke="#ef4040" stroke-width="1.25" fill="none"/>
<rect x="603.70" y="440.61" width="13.00" height="42.69" fill="rgb(237,191,193)" fill-opacity="0.55" stroke="#ef4040" stroke-width="1.25"/>
<rect x="638.70" y="481.23" width="13.00" height="2.07" fill="rgb(131,131,244)" fill-opacity="0.55" stroke="#5858fc" stroke-width="1.25"/>
<rect x="659.70" y="481.23" width="13.00" height="2.07" fill="rgb(237,191,193)" fill-opacity="0.55" stroke="#ef4040" stroke-width="1.25"/>
<circle cx="589.20" cy="460.07" r="2.25" fill="#5555f5"/>
<circle cx="584.40" cy="468.20" r="2.25" fill="#5555f5"/>
<circle cx="593.70" cy="465.13" r="2.25" fill="#5555f5"/>
<circle cx="589.20" cy="476.63" r="2.25" fill="#5555f5"/>
<circle cx="589.20" cy="481.30" r="2.25" fill="#5555f5"/>
<rect x="608.00" y="399.32" width="4.4" height="4.4" fill="#e83238"/>
<rect x="608.00" y="412.81" width="4.4" height="4.4" fill="#e83238"/>
<rect x="603.20" y="448.37" width="4.4" height="4.4" fill="#e83238"/>
<rect x="612.35" y="451.13" width="4.4" height="4.4" fill="#e83238"/>
<rect x="608.00" y="478.26" width="4.4" height="4.4" fill="#e83238"/>
<circle cx="640.40" cy="477.85" r="2.25" fill="#5555f5"/>
<circle cx="643.21" cy="480.92" r="2.25" fill="#5555f5"/>
<circle cx="645.20" cy="481.30" r="2.25" fill="#5555f5"/>
<circle cx="649.80" cy="481.30" r="2.25" fill="#5555f5"/>
<circle cx="640.91" cy="481.30" r="2.25" fill="#5555f5"/>
<rect x="660.94" y="477.80" width="4.4" height="4.4" fill="#e83238"/>
<rect x="659.20" y="479.10" width="4.4" height="4.4" fill="#e83238"/>
<rect x="664.00" y="479.10" width="4.4" height="4.4" fill="#e83238"/>
<rect x="667.84" y="479.10" width="4.4" height="4.4" fill="#e83238"/>
<rect x="664.00" y="479.10" width="4.4" height="4.4" fill="#e83238"/>
<path d="M575.20 378.70V483.30M571.60 483.30H680.70M599.70 483.30v3.6M655.70 483.30v3.6" stroke="#1e1e1e" stroke-width="1.3" fill="none"/>
<text x="569.40" y="488.30" font-size="14" text-anchor="end" fill="#111" >0</text>
<path d="M571.60 448.43H575.20" stroke="#1e1e1e" stroke-width="1.3"/>
<text x="569.40" y="453.43" font-size="14" text-anchor="end" fill="#111" >2</text>
<path d="M571.60 413.57H575.20" stroke="#1e1e1e" stroke-width="1.3"/>
<text x="569.40" y="418.57" font-size="14" text-anchor="end" fill="#111" >4</text>
<path d="M571.60 378.70H575.20" stroke="#1e1e1e" stroke-width="1.3"/>
<text x="569.40" y="383.70" font-size="14" text-anchor="end" fill="#111" >6</text>
<text x="599.70" y="501.10" font-size="14" text-anchor="middle" fill="#111" >isotype</text>
<text x="654.30" y="501.10" font-size="14" text-anchor="middle" fill="#111" >anti-IL-1<tspan dx="0.65" dy="1.17" font-size="13" fill="#505050">β</tspan><tspan dy="-1.17"></tspan></text>
<text transform="translate(558.30,432.60) rotate(-90)" font-size="14.15" text-anchor="middle" fill="#111">CD8<tspan dy="-6" font-size="10">+</tspan><tspan dy="6"> GZMB</tspan><tspan dy="-6" font-size="10">+</tspan><tspan dy="6"> cells (%)</tspan></text>
<path d="M589.20 370.07V366.27H610.20V370.07" stroke="#1e1e1e" stroke-width="1.1" fill="none"/>
<text x="599.70" y="364.27" font-size="11" text-anchor="middle" fill="#111" ><tspan font-style="italic">P</tspan>=0.0416</text>
<path d="M589.20 382.79V378.99H666.20V382.79M645.20 378.99v3.8" stroke="#1e1e1e" stroke-width="1.1" fill="none"/>
<text x="617.20" y="376.99" font-size="11" text-anchor="middle" fill="#111" >ns</text>
<text x="655.70" y="376.99" font-size="11" text-anchor="middle" fill="#111" >ns</text>
<path d="M610.20 397.05V393.25H666.20V397.05" stroke="#1e1e1e" stroke-width="1.1" fill="none"/>
<text x="638.20" y="391.25" font-size="11" text-anchor="middle" fill="#111" ><tspan font-style="italic">P</tspan>=0.0045</text>
<text transform="translate(544.00,360.10) scale(1,1.09)" font-size="13.5" font-weight="bold" fill="#111">l</text>
<path d="M235.30 595.65V609.45" stroke="#5858fc" stroke-width="1.05" fill="none"/>
<path d="M231.90 595.65H238.70M231.90 609.45H238.70" stroke="#5858fc" stroke-width="1.25" fill="none"/>
<rect x="228.80" y="602.55" width="13.00" height="48.25" fill="rgb(131,131,244)" fill-opacity="0.55" stroke="#5858fc" stroke-width="1.25"/>
<path d="M256.30 635.66V639.34" stroke="#ef4040" stroke-width="1.05" fill="none"/>
<path d="M252.90 635.66H259.70M252.90 639.34H259.70" stroke="#ef4040" stroke-width="1.25" fill="none"/>
<rect x="249.80" y="637.50" width="13.00" height="13.30" fill="rgb(237,191,193)" fill-opacity="0.55" stroke="#ef4040" stroke-width="1.25"/>
<path d="M291.30 593.35V608.99" stroke="#5858fc" stroke-width="1.05" fill="none"/>
<path d="M287.90 593.35H294.70M287.90 608.99H294.70" stroke="#5858fc" stroke-width="1.25" fill="none"/>
<rect x="284.80" y="601.17" width="13.00" height="49.63" fill="rgb(131,131,244)" fill-opacity="0.55" stroke="#5858fc" stroke-width="1.25"/>
<path d="M312.30 609.14V613.12" stroke="#ef4040" stroke-width="1.05" fill="none"/>
<path d="M308.90 609.14H315.70M308.90 613.12H315.70" stroke="#ef4040" stroke-width="1.25" fill="none"/>
<rect x="305.80" y="611.13" width="13.00" height="39.67" fill="rgb(237,191,193)" fill-opacity="0.55" stroke="#ef4040" stroke-width="1.25"/>
<circle cx="235.30" cy="582.62" r="2.25" fill="#5555f5"/>
<circle cx="235.30" cy="591.82" r="2.25" fill="#5555f5"/>
<circle cx="235.30" cy="605.31" r="2.25" fill="#5555f5"/>
<circle cx="230.50" cy="617.57" r="2.25" fill="#5555f5"/>
<circle cx="239.70" cy="613.74" r="2.25" fill="#5555f5"/>
<rect x="249.30" y="634.07" width="4.4" height="4.4" fill="#e83238"/>
<rect x="254.10" y="633.00" width="4.4" height="4.4" fill="#e83238"/>
<rect x="258.35" y="636.06" width="4.4" height="4.4" fill="#e83238"/>
<rect x="254.10" y="639.89" width="4.4" height="4.4" fill="#e83238"/>
<rect x="254.10" y="644.49" width="4.4" height="4.4" fill="#e83238"/>
<circle cx="291.30" cy="576.95" r="2.25" fill="#5555f5"/>
<circle cx="291.30" cy="588.75" r="2.25" fill="#5555f5"/>
<circle cx="291.30" cy="610.21" r="2.25" fill="#5555f5"/>
<circle cx="286.50" cy="614.81" r="2.25" fill="#5555f5"/>
<circle cx="295.80" cy="611.74" r="2.25" fill="#5555f5"/>
<rect x="310.10" y="595.14" width="4.4" height="4.4" fill="#e83238"/>
<rect x="305.30" y="610.77" width="4.4" height="4.4" fill="#e83238"/>
<rect x="314.14" y="610.46" width="4.4" height="4.4" fill="#e83238"/>
<rect x="310.10" y="617.67" width="4.4" height="4.4" fill="#e83238"/>
<rect x="310.10" y="622.27" width="4.4" height="4.4" fill="#e83238"/>
<path d="M221.30 546.10V650.80M217.70 650.80H326.80M245.80 650.80v3.6M301.80 650.80v3.6" stroke="#1e1e1e" stroke-width="1.3" fill="none"/>
<text x="215.50" y="655.80" font-size="14" text-anchor="end" fill="#111" >0</text>
<path d="M217.70 598.45H221.30" stroke="#1e1e1e" stroke-width="1.3"/>
<text x="215.50" y="603.45" font-size="14" text-anchor="end" fill="#111" >1</text>
<path d="M217.70 546.10H221.30" stroke="#1e1e1e" stroke-width="1.3"/>
<text x="215.50" y="551.10" font-size="14" text-anchor="end" fill="#111" >2</text>
<text x="245.80" y="668.60" font-size="14" text-anchor="middle" fill="#111" >isotype</text>
<text x="301.80" y="668.60" font-size="14" text-anchor="middle" fill="#111" >anti-IL-18</text>
<text transform="translate(204.40,600.05) rotate(-90)" font-size="14.15" text-anchor="middle" fill="#111">Tumor weight (g)</text>
<path d="M235.30 543.20V539.40H256.30V543.20" stroke="#1e1e1e" stroke-width="1.1" fill="none"/>
<text x="245.80" y="537.40" font-size="11" text-anchor="middle" fill="#111" ><tspan font-style="italic">P</tspan>=0.0011</text>
<path d="M235.30 555.46V551.66H312.30V555.46M291.30 551.66v3.8" stroke="#1e1e1e" stroke-width="1.1" fill="none"/>
<text x="263.30" y="549.66" font-size="11" text-anchor="middle" fill="#111" >ns</text>
<text x="301.80" y="549.66" font-size="11" text-anchor="middle" fill="#111" >ns</text>
<path d="M256.30 570.79V566.99H312.30V570.79" stroke="#1e1e1e" stroke-width="1.1" fill="none"/>
<text x="284.30" y="564.99" font-size="11" text-anchor="middle" fill="#111" ><tspan font-style="italic">P</tspan>=0.0193</text>
<text transform="translate(187.90,527.60) scale(1,1.09)" font-size="13.5" font-weight="bold" fill="#111">n</text>
<path d="M412.50 609.60V615.73" stroke="#5858fc" stroke-width="1.05" fill="none"/>
<path d="M409.10 609.60H415.90M409.10 615.73H415.90" stroke="#5858fc" stroke-width="1.25" fill="none"/>
<rect x="406.00" y="612.66" width="13.00" height="38.14" fill="rgb(131,131,244)" fill-opacity="0.55" stroke="#5858fc" stroke-width="1.25"/>
<path d="M433.50 587.68V590.74" stroke="#ef4040" stroke-width="1.05" fill="none"/>
<path d="M430.10 587.68H436.90M430.10 590.74H436.90" stroke="#ef4040" stroke-width="1.25" fill="none"/>
<rect x="427.00" y="589.21" width="13.00" height="61.59" fill="rgb(237,191,193)" fill-opacity="0.55" stroke="#ef4040" stroke-width="1.25"/>
<path d="M468.50 617.57V622.17" stroke="#5858fc" stroke-width="1.05" fill="none"/>
<path d="M465.10 617.57H471.90M465.10 622.17H471.90" stroke="#5858fc" stroke-width="1.25" fill="none"/>
<rect x="462.00" y="619.87" width="13.00" height="30.93" fill="rgb(131,131,244)" fill-opacity="0.55" stroke="#5858fc" stroke-width="1.25"/>
<path d="M489.50 608.07V613.28" stroke="#ef4040" stroke-width="1.05" fill="none"/>
<path d="M486.10 608.07H492.90M486.10 613.28H492.90" stroke="#ef4040" stroke-width="1.25" fill="none"/>
<rect x="483.00" y="610.67" width="13.00" height="40.13" fill="rgb(237,191,193)" fill-opacity="0.55" stroke="#ef4040" stroke-width="1.25"/>
<circle cx="412.50" cy="601.01" r="2.25" fill="#5555f5"/>
<circle cx="407.70" cy="612.97" r="2.25" fill="#5555f5"/>
<circle cx="416.70" cy="614.81" r="2.25" fill="#5555f5"/>
<circle cx="412.50" cy="614.50" r="2.25" fill="#5555f5"/>
<circle cx="407.70" cy="617.88" r="2.25" fill="#5555f5"/>
<rect x="431.30" y="575.98" width="4.4" height="4.4" fill="#e83238"/>
<rect x="426.50" y="588.54" width="4.4" height="4.4" fill="#e83238"/>
<rect x="435.35" y="589.00" width="4.4" height="4.4" fill="#e83238"/>
<rect x="431.30" y="591.15" width="4.4" height="4.4" fill="#e83238"/>
<rect x="426.50" y="597.28" width="4.4" height="4.4" fill="#e83238"/>
<rect x="435.35" y="594.22" width="4.4" height="4.4" fill="#e83238"/>
<circle cx="463.70" cy="615.27" r="2.25" fill="#5555f5"/>
<circle cx="472.80" cy="618.34" r="2.25" fill="#5555f5"/>
<circle cx="468.50" cy="620.64" r="2.25" fill="#5555f5"/>
<circle cx="463.70" cy="626.00" r="2.25" fill="#5555f5"/>
<circle cx="472.80" cy="622.93" r="2.25" fill="#5555f5"/>
<rect x="487.30" y="606.48" width="4.4" height="4.4" fill="#e83238"/>
<rect x="482.50" y="609.24" width="4.4" height="4.4" fill="#e83238"/>
<rect x="491.60" y="610.00" width="4.4" height="4.4" fill="#e83238"/>
<rect x="487.30" y="615.68" width="4.4" height="4.4" fill="#e83238"/>
<rect x="483.94" y="619.97" width="4.4" height="4.4" fill="#e83238"/>
<path d="M398.50 546.10V650.80M394.90 650.80H504.00M423.00 650.80v3.6M479.00 650.80v3.6" stroke="#1e1e1e" stroke-width="1.3" fill="none"/>
<text x="392.70" y="655.80" font-size="14" text-anchor="end" fill="#111" >0</text>
<path d="M394.90 615.90H398.50" stroke="#1e1e1e" stroke-width="1.3"/>
<text x="392.70" y="620.90" font-size="14" text-anchor="end" fill="#111" >20</text>
<path d="M394.90 581.00H398.50" stroke="#1e1e1e" stroke-width="1.3"/>
<text x="392.70" y="586.00" font-size="14" text-anchor="end" fill="#111" >40</text>
<path d="M394.90 546.10H398.50" stroke="#1e1e1e" stroke-width="1.3"/>
<text x="392.70" y="551.10" font-size="14" text-anchor="end" fill="#111" >60</text>
<text x="423.00" y="668.60" font-size="14" text-anchor="middle" fill="#111" >isotype</text>
<text x="479.00" y="668.60" font-size="14" text-anchor="middle" fill="#111" >anti-IL-18</text>
<text transform="translate(375.20,600.05) rotate(-90)" font-size="14.15" text-anchor="middle" fill="#111">MHC-II<tspan dy="-6" font-size="10">+</tspan><tspan dy="6"> TAMs (%)</tspan></text>
<path d="M412.50 544.12V540.32H433.50V544.12" stroke="#1e1e1e" stroke-width="1.1" fill="none"/>
<text x="423.00" y="538.32" font-size="11" text-anchor="middle" fill="#111" ><tspan font-style="italic">P</tspan>=0.0003</text>
<path d="M412.50 556.69V552.89H489.50V556.69M468.50 552.89v3.8" stroke="#1e1e1e" stroke-width="1.1" fill="none"/>
<text x="440.50" y="550.89" font-size="11" text-anchor="middle" fill="#111" >ns</text>
<text x="479.00" y="550.89" font-size="11" text-anchor="middle" fill="#111" >ns</text>
<path d="M433.50 570.79V566.99H489.50V570.79" stroke="#1e1e1e" stroke-width="1.1" fill="none"/>
<text x="461.50" y="564.99" font-size="11" text-anchor="middle" fill="#111" ><tspan font-style="italic">P</tspan>=0.0001</text>
<text transform="translate(364.50,527.60) scale(1,1.09)" font-size="13.5" font-weight="bold" fill="#111">o</text>
<path d="M589.70 588.45V594.58" stroke="#5858fc" stroke-width="1.05" fill="none"/>
<path d="M586.30 588.45H593.10M586.30 594.58H593.10" stroke="#5858fc" stroke-width="1.25" fill="none"/>
<rect x="583.20" y="591.51" width="13.00" height="59.29" fill="rgb(131,131,244)" fill-opacity="0.55" stroke="#5858fc" stroke-width="1.25"/>
<path d="M610.70 616.80V623.85" stroke="#ef4040" stroke-width="1.05" fill="none"/>
<path d="M607.30 616.80H614.10M607.30 623.85H614.10" stroke="#ef4040" stroke-width="1.25" fill="none"/>
<rect x="604.20" y="620.33" width="13.00" height="30.47" fill="rgb(237,191,193)" fill-opacity="0.55" stroke="#ef4040" stroke-width="1.25"/>
<path d="M645.70 592.28V599.94" stroke="#5858fc" stroke-width="1.05" fill="none"/>
<path d="M642.30 592.28H649.10M642.30 599.94H649.10" stroke="#5858fc" stroke-width="1.25" fill="none"/>
<rect x="639.20" y="596.11" width="13.00" height="54.69" fill="rgb(131,131,244)" fill-opacity="0.55" stroke="#5858fc" stroke-width="1.25"/>
<path d="M666.70 607.61V613.74" stroke="#ef4040" stroke-width="1.05" fill="none"/>
<path d="M663.30 607.61H670.10M663.30 613.74H670.10" stroke="#ef4040" stroke-width="1.25" fill="none"/>
<rect x="660.20" y="610.67" width="13.00" height="40.13" fill="rgb(237,191,193)" fill-opacity="0.55" stroke="#ef4040" stroke-width="1.25"/>
<circle cx="589.70" cy="582.77" r="2.25" fill="#5555f5"/>
<circle cx="584.90" cy="590.74" r="2.25" fill="#5555f5"/>
<circle cx="594.50" cy="593.04" r="2.25" fill="#5555f5"/>
<circle cx="589.70" cy="592.28" r="2.25" fill="#5555f5"/>
<circle cx="584.90" cy="596.11" r="2.25" fill="#5555f5"/>
<rect x="603.70" y="607.71" width="4.4" height="4.4" fill="#e83238"/>
<rect x="613.30" y="611.54" width="4.4" height="4.4" fill="#e83238"/>
<rect x="603.70" y="619.97" width="4.4" height="4.4" fill="#e83238"/>
<rect x="613.30" y="621.50" width="4.4" height="4.4" fill="#e83238"/>
<rect x="608.50" y="627.94" width="4.4" height="4.4" fill="#e83238"/>
<circle cx="640.90" cy="589.67" r="2.25" fill="#5555f5"/>
<circle cx="650.42" cy="590.28" r="2.25" fill="#5555f5"/>
<circle cx="645.70" cy="596.11" r="2.25" fill="#5555f5"/>
<circle cx="640.90" cy="596.11" r="2.25" fill="#5555f5"/>
<circle cx="645.70" cy="605.31" r="2.25" fill="#5555f5"/>
<rect x="664.50" y="601.88" width="4.4" height="4.4" fill="#e83238"/>
<rect x="659.70" y="610.77" width="4.4" height="4.4" fill="#e83238"/>
<rect x="669.06" y="607.40" width="4.4" height="4.4" fill="#e83238"/>
<rect x="669.06" y="612.61" width="4.4" height="4.4" fill="#e83238"/>
<rect x="659.70" y="615.37" width="4.4" height="4.4" fill="#e83238"/>
<path d="M575.70 546.10V650.80M572.10 650.80H681.20M600.20 650.80v3.6M656.20 650.80v3.6" stroke="#1e1e1e" stroke-width="1.3" fill="none"/>
<text x="569.90" y="655.80" font-size="14" text-anchor="end" fill="#111" >0</text>
<path d="M572.10 624.62H575.70" stroke="#1e1e1e" stroke-width="1.3"/>
<text x="569.90" y="629.62" font-size="14" text-anchor="end" fill="#111" >20</text>
<path d="M572.10 598.45H575.70" stroke="#1e1e1e" stroke-width="1.3"/>
<text x="569.90" y="603.45" font-size="14" text-anchor="end" fill="#111" >40</text>
<path d="M572.10 572.27H575.70" stroke="#1e1e1e" stroke-width="1.3"/>
<text x="569.90" y="577.27" font-size="14" text-anchor="end" fill="#111" >60</text>
<path d="M572.10 546.10H575.70" stroke="#1e1e1e" stroke-width="1.3"/>
<text x="569.90" y="551.10" font-size="14" text-anchor="end" fill="#111" >80</text>
<text x="600.20" y="668.60" font-size="14" text-anchor="middle" fill="#111" >isotype</text>
<text x="654.60" y="668.60" font-size="14" text-anchor="middle" fill="#111" >anti-IL-18</text>
<text transform="translate(551.60,600.05) rotate(-90)" font-size="14.15" text-anchor="middle" fill="#111">CD206<tspan dy="-6" font-size="10">+</tspan><tspan dy="6"> cells (%)</tspan></text>
<path d="M589.70 549.03V545.23H645.70V549.03" stroke="#1e1e1e" stroke-width="1.1" fill="none"/>
<text x="617.70" y="543.23" font-size="11" text-anchor="middle" fill="#111" >ns</text>
<path d="M610.70 560.52V556.72H666.70V560.52" stroke="#1e1e1e" stroke-width="1.1" fill="none"/>
<text x="638.70" y="554.72" font-size="11" text-anchor="middle" fill="#111" >ns</text>
<path d="M589.70 574.78V570.98H610.70V574.78" stroke="#1e1e1e" stroke-width="1.1" fill="none"/>
<text x="600.20" y="568.98" font-size="11" text-anchor="middle" fill="#111" ><tspan font-style="italic">P</tspan>&lt;0.0001</text>
<path d="M645.70 574.78V570.98H666.70V574.78" stroke="#1e1e1e" stroke-width="1.1" fill="none"/>
<text x="656.20" y="568.98" font-size="11" text-anchor="middle" fill="#111" ><tspan font-style="italic">P</tspan>=0.0042</text>
<text transform="translate(542.70,527.60) scale(1,1.09)" font-size="13.5" font-weight="bold" fill="#111">p</text>
<path d="M57.30 805.03V808.09" stroke="#5858fc" stroke-width="1.05" fill="none"/>
<path d="M53.90 805.03H60.70M53.90 808.09H60.70" stroke="#5858fc" stroke-width="1.25" fill="none"/>
<rect x="50.80" y="806.56" width="13.00" height="10.34" fill="rgb(131,131,244)" fill-opacity="0.55" stroke="#5858fc" stroke-width="1.25"/>
<path d="M78.30 765.94V772.07" stroke="#ef4040" stroke-width="1.05" fill="none"/>
<path d="M74.90 765.94H81.70M74.90 772.07H81.70" stroke="#ef4040" stroke-width="1.25" fill="none"/>
<rect x="71.80" y="769.01" width="13.00" height="47.89" fill="rgb(237,191,193)" fill-opacity="0.55" stroke="#ef4040" stroke-width="1.25"/>
<path d="M113.30 810.39V812.54" stroke="#5858fc" stroke-width="1.05" fill="none"/>
<path d="M109.90 810.39H116.70M109.90 812.54H116.70" stroke="#5858fc" stroke-width="1.25" fill="none"/>
<rect x="106.80" y="811.47" width="13.00" height="5.43" fill="rgb(131,131,244)" fill-opacity="0.55" stroke="#5858fc" stroke-width="1.25"/>
<rect x="127.80" y="808.86" width="13.00" height="8.04" fill="rgb(237,191,193)" fill-opacity="0.55" stroke="#ef4040" stroke-width="1.25"/>
<circle cx="52.50" cy="801.96" r="2.25" fill="#5555f5"/>
<circle cx="57.30" cy="804.72" r="2.25" fill="#5555f5"/>
<circle cx="62.10" cy="805.80" r="2.25" fill="#5555f5"/>
<circle cx="52.50" cy="808.86" r="2.25" fill="#5555f5"/>
<circle cx="57.30" cy="806.56" r="2.25" fill="#5555f5"/>
<rect x="71.30" y="758.84" width="4.4" height="4.4" fill="#e83238"/>
<rect x="80.90" y="761.14" width="4.4" height="4.4" fill="#e83238"/>
<rect x="71.46" y="765.27" width="4.4" height="4.4" fill="#e83238"/>
<rect x="76.10" y="770.64" width="4.4" height="4.4" fill="#e83238"/>
<rect x="76.10" y="775.54" width="4.4" height="4.4" fill="#e83238"/>
<circle cx="110.45" cy="808.86" r="2.25" fill="#5555f5"/>
<circle cx="113.30" cy="809.63" r="2.25" fill="#5555f5"/>
<circle cx="108.61" cy="811.93" r="2.25" fill="#5555f5"/>
<circle cx="118.10" cy="813.00" r="2.25" fill="#5555f5"/>
<circle cx="113.30" cy="814.23" r="2.25" fill="#5555f5"/>
<rect x="127.41" y="805.89" width="4.4" height="4.4" fill="#e83238"/>
<rect x="136.90" y="806.66" width="4.4" height="4.4" fill="#e83238"/>
<rect x="132.10" y="808.19" width="4.4" height="4.4" fill="#e83238"/>
<rect x="127.41" y="809.73" width="4.4" height="4.4" fill="#e83238"/>
<rect x="136.90" y="810.49" width="4.4" height="4.4" fill="#e83238"/>
<path d="M43.30 712.30V816.90M39.70 816.90H148.80M67.80 816.90v3.6M123.80 816.90v3.6" stroke="#1e1e1e" stroke-width="1.3" fill="none"/>
<text x="37.50" y="821.90" font-size="14" text-anchor="end" fill="#111" >0</text>
<path d="M39.70 790.75H43.30" stroke="#1e1e1e" stroke-width="1.3"/>
<text x="37.50" y="795.75" font-size="14" text-anchor="end" fill="#111" >10</text>
<path d="M39.70 764.60H43.30" stroke="#1e1e1e" stroke-width="1.3"/>
<text x="37.50" y="769.60" font-size="14" text-anchor="end" fill="#111" >20</text>
<path d="M39.70 738.45H43.30" stroke="#1e1e1e" stroke-width="1.3"/>
<text x="37.50" y="743.45" font-size="14" text-anchor="end" fill="#111" >30</text>
<path d="M39.70 712.30H43.30" stroke="#1e1e1e" stroke-width="1.3"/>
<text x="37.50" y="717.30" font-size="14" text-anchor="end" fill="#111" >40</text>
<text x="67.80" y="834.70" font-size="14" text-anchor="middle" fill="#111" >isotype</text>
<text x="123.80" y="834.70" font-size="14" text-anchor="middle" fill="#111" >anti-IL-18</text>
<text transform="translate(19.30,766.20) rotate(-90)" font-size="14.15" text-anchor="middle" fill="#111">CD4<tspan dy="-6" font-size="10">+</tspan><tspan dy="6"> cells (%)</tspan></text>
<path d="M57.30 722.69V718.89H78.30V722.69" stroke="#1e1e1e" stroke-width="1.1" fill="none"/>
<text x="67.80" y="716.89" font-size="11" text-anchor="middle" fill="#111" ><tspan font-style="italic">P</tspan>&lt;0.0001</text>
<path d="M57.30 735.26V731.46H134.30V735.26M113.30 731.46v3.8" stroke="#1e1e1e" stroke-width="1.1" fill="none"/>
<text x="85.30" y="729.46" font-size="11" text-anchor="middle" fill="#111" >ns</text>
<text x="123.80" y="729.46" font-size="11" text-anchor="middle" fill="#111" >ns</text>
<path d="M78.30 749.05V745.25H134.30V749.05" stroke="#1e1e1e" stroke-width="1.1" fill="none"/>
<text x="106.30" y="743.25" font-size="11" text-anchor="middle" fill="#111" ><tspan font-style="italic">P</tspan>&lt;0.0001</text>
<text transform="translate(9.00,693.90) scale(1,1.09)" font-size="13.5" font-weight="bold" fill="#111">q</text>
<text x="95.20" y="696.80" font-size="14" text-anchor="middle" fill="#111" >CD4<tspan dy="-6" font-size="10">+</tspan><tspan dy="6"> T cells</tspan></text>
<path d="M234.20 798.90V801.96" stroke="#5858fc" stroke-width="1.05" fill="none"/>
<path d="M230.80 798.90H237.60M230.80 801.96H237.60" stroke="#5858fc" stroke-width="1.25" fill="none"/>
<rect x="227.70" y="800.43" width="13.00" height="16.47" fill="rgb(131,131,244)" fill-opacity="0.55" stroke="#5858fc" stroke-width="1.25"/>
<path d="M255.20 764.41V776.67" stroke="#ef4040" stroke-width="1.05" fill="none"/>
<path d="M251.80 764.41H258.60M251.80 776.67H258.60" stroke="#ef4040" stroke-width="1.25" fill="none"/>
<rect x="248.70" y="770.54" width="13.00" height="46.36" fill="rgb(237,191,193)" fill-opacity="0.55" stroke="#ef4040" stroke-width="1.25"/>
<path d="M290.20 809.32V811.47" stroke="#5858fc" stroke-width="1.05" fill="none"/>
<path d="M286.80 809.32H293.60M286.80 811.47H293.60" stroke="#5858fc" stroke-width="1.25" fill="none"/>
<rect x="283.70" y="810.39" width="13.00" height="6.51" fill="rgb(131,131,244)" fill-opacity="0.55" stroke="#5858fc" stroke-width="1.25"/>
<path d="M311.20 807.33V810.39" stroke="#ef4040" stroke-width="1.05" fill="none"/>
<path d="M307.80 807.33H314.60M307.80 810.39H314.60" stroke="#ef4040" stroke-width="1.25" fill="none"/>
<rect x="304.70" y="808.86" width="13.00" height="8.04" fill="rgb(237,191,193)" fill-opacity="0.55" stroke="#ef4040" stroke-width="1.25"/>
<circle cx="234.20" cy="794.61" r="2.25" fill="#5555f5"/>
<circle cx="229.40" cy="801.20" r="2.25" fill="#5555f5"/>
<circle cx="238.70" cy="800.74" r="2.25" fill="#5555f5"/>
<circle cx="234.20" cy="803.50" r="2.25" fill="#5555f5"/>
<circle cx="231.50" cy="802.73" r="2.25" fill="#5555f5"/>
<rect x="248.20" y="755.31" width="4.4" height="4.4" fill="#e83238"/>
<rect x="257.80" y="758.38" width="4.4" height="4.4" fill="#e83238"/>
<rect x="248.20" y="766.04" width="4.4" height="4.4" fill="#e83238"/>
<rect x="257.65" y="768.34" width="4.4" height="4.4" fill="#e83238"/>
<rect x="253.00" y="781.37" width="4.4" height="4.4" fill="#e83238"/>
<circle cx="285.40" cy="806.87" r="2.25" fill="#5555f5"/>
<circle cx="290.20" cy="809.63" r="2.25" fill="#5555f5"/>
<circle cx="292.04" cy="810.39" r="2.25" fill="#5555f5"/>
<circle cx="295.00" cy="810.85" r="2.25" fill="#5555f5"/>
<circle cx="286.68" cy="812.69" r="2.25" fill="#5555f5"/>
<rect x="305.94" y="804.06" width="4.4" height="4.4" fill="#e83238"/>
<rect x="309.00" y="804.36" width="4.4" height="4.4" fill="#e83238"/>
<rect x="304.20" y="807.43" width="4.4" height="4.4" fill="#e83238"/>
<rect x="312.84" y="806.66" width="4.4" height="4.4" fill="#e83238"/>
<rect x="309.00" y="809.27" width="4.4" height="4.4" fill="#e83238"/>
<path d="M220.20 712.30V816.90M216.60 816.90H325.70M244.70 816.90v3.6M300.70 816.90v3.6" stroke="#1e1e1e" stroke-width="1.3" fill="none"/>
<text x="214.40" y="821.90" font-size="14" text-anchor="end" fill="#111" >0</text>
<path d="M216.60 782.03H220.20" stroke="#1e1e1e" stroke-width="1.3"/>
<text x="214.40" y="787.03" font-size="14" text-anchor="end" fill="#111" >5</text>
<path d="M216.60 747.17H220.20" stroke="#1e1e1e" stroke-width="1.3"/>
<text x="214.40" y="752.17" font-size="14" text-anchor="end" fill="#111" >10</text>
<path d="M216.60 712.30H220.20" stroke="#1e1e1e" stroke-width="1.3"/>
<text x="214.40" y="717.30" font-size="14" text-anchor="end" fill="#111" >15</text>
<text x="244.70" y="834.70" font-size="14" text-anchor="middle" fill="#111" >isotype</text>
<text x="300.70" y="834.70" font-size="14" text-anchor="middle" fill="#111" >anti-IL-18</text>
<text transform="translate(197.80,766.20) rotate(-90)" font-size="14.15" text-anchor="middle" fill="#111">CD4<tspan dy="-6" font-size="10">+</tspan><tspan dy="6"> CD69</tspan><tspan dy="-6" font-size="10">+</tspan><tspan dy="6"> cells (%)</tspan></text>
<path d="M234.20 718.86V715.06H290.20V718.86" stroke="#1e1e1e" stroke-width="1.1" fill="none"/>
<text x="262.20" y="713.06" font-size="11" text-anchor="middle" fill="#111" ><tspan font-style="italic">P</tspan>=0.0421</text>
<path d="M255.20 735.26V731.46H311.20V735.26" stroke="#1e1e1e" stroke-width="1.1" fill="none"/>
<text x="283.20" y="729.46" font-size="11" text-anchor="middle" fill="#111" ><tspan font-style="italic">P</tspan>&lt;0.0001</text>
<path d="M234.20 749.05V745.25H255.20V749.05" stroke="#1e1e1e" stroke-width="1.1" fill="none"/>
<text x="244.70" y="743.25" font-size="11" text-anchor="middle" fill="#111" ><tspan font-style="italic">P</tspan>&lt;0.0001</text>
<path d="M290.20 749.05V745.25H311.20V749.05" stroke="#1e1e1e" stroke-width="1.1" fill="none"/>
<text x="300.70" y="743.25" font-size="11" text-anchor="middle" fill="#111" >ns</text>
<text transform="translate(188.50,693.90) scale(1,1.09)" font-size="13.5" font-weight="bold" fill="#111">r</text>
<text x="272.50" y="697.00" font-size="14" text-anchor="middle" fill="#111" >Activated CD4<tspan dy="-6" font-size="10">+</tspan><tspan dy="6"> T cells</tspan></text>
<path d="M412.10 795.53V800.74" stroke="#5858fc" stroke-width="1.05" fill="none"/>
<path d="M408.70 795.53H415.50M408.70 800.74H415.50" stroke="#5858fc" stroke-width="1.25" fill="none"/>
<rect x="405.60" y="798.13" width="13.00" height="18.77" fill="rgb(131,131,244)" fill-opacity="0.55" stroke="#5858fc" stroke-width="1.25"/>
<path d="M433.10 761.65V774.83" stroke="#ef4040" stroke-width="1.05" fill="none"/>
<path d="M429.70 761.65H436.50M429.70 774.83H436.50" stroke="#ef4040" stroke-width="1.25" fill="none"/>
<rect x="426.60" y="768.24" width="13.00" height="48.66" fill="rgb(237,191,193)" fill-opacity="0.55" stroke="#ef4040" stroke-width="1.25"/>
<path d="M468.10 803.50V809.01" stroke="#5858fc" stroke-width="1.05" fill="none"/>
<path d="M464.70 803.50H471.50M464.70 809.01H471.50" stroke="#5858fc" stroke-width="1.25" fill="none"/>
<rect x="461.60" y="806.26" width="13.00" height="10.64" fill="rgb(131,131,244)" fill-opacity="0.55" stroke="#5858fc" stroke-width="1.25"/>
<path d="M489.10 805.03V807.48" stroke="#ef4040" stroke-width="1.05" fill="none"/>
<path d="M485.70 805.03H492.50M485.70 807.48H492.50" stroke="#ef4040" stroke-width="1.25" fill="none"/>
<rect x="482.60" y="806.26" width="13.00" height="10.64" fill="rgb(237,191,193)" fill-opacity="0.55" stroke="#ef4040" stroke-width="1.25"/>
<circle cx="407.30" cy="792.46" r="2.25" fill="#5555f5"/>
<circle cx="416.70" cy="792.77" r="2.25" fill="#5555f5"/>
<circle cx="412.10" cy="797.36" r="2.25" fill="#5555f5"/>
<circle cx="409.04" cy="803.80" r="2.25" fill="#5555f5"/>
<circle cx="414.09" cy="802.27" r="2.25" fill="#5555f5"/>
<rect x="426.10" y="751.94" width="4.4" height="4.4" fill="#e83238"/>
<rect x="435.35" y="755.00" width="4.4" height="4.4" fill="#e83238"/>
<rect x="426.10" y="763.74" width="4.4" height="4.4" fill="#e83238"/>
<rect x="435.35" y="767.57" width="4.4" height="4.4" fill="#e83238"/>
<rect x="430.90" y="791.33" width="4.4" height="4.4" fill="#e83238"/>
<circle cx="468.10" cy="798.13" r="2.25" fill="#5555f5"/>
<circle cx="472.80" cy="803.19" r="2.25" fill="#5555f5"/>
<circle cx="463.30" cy="810.39" r="2.25" fill="#5555f5"/>
<circle cx="468.10" cy="807.33" r="2.25" fill="#5555f5"/>
<circle cx="472.80" cy="809.32" r="2.25" fill="#5555f5"/>
<rect x="486.90" y="799.76" width="4.4" height="4.4" fill="#e83238"/>
<rect x="482.10" y="804.36" width="4.4" height="4.4" fill="#e83238"/>
<rect x="491.14" y="805.89" width="4.4" height="4.4" fill="#e83238"/>
<rect x="486.90" y="805.89" width="4.4" height="4.4" fill="#e83238"/>
<rect x="486.90" y="812.03" width="4.4" height="4.4" fill="#e83238"/>
<path d="M398.10 712.30V816.90M394.50 816.90H503.60M422.60 816.90v3.6M478.60 816.90v3.6" stroke="#1e1e1e" stroke-width="1.3" fill="none"/>
<text x="392.30" y="821.90" font-size="14" text-anchor="end" fill="#111" >0</text>
<path d="M394.50 782.03H398.10" stroke="#1e1e1e" stroke-width="1.3"/>
<text x="392.30" y="787.03" font-size="14" text-anchor="end" fill="#111" >1</text>
<path d="M394.50 747.17H398.10" stroke="#1e1e1e" stroke-width="1.3"/>
<text x="392.30" y="752.17" font-size="14" text-anchor="end" fill="#111" >2</text>
<path d="M394.50 712.30H398.10" stroke="#1e1e1e" stroke-width="1.3"/>
<text x="392.30" y="717.30" font-size="14" text-anchor="end" fill="#111" >3</text>
<text x="422.60" y="834.70" font-size="14" text-anchor="middle" fill="#111" >isotype</text>
<text x="478.60" y="834.70" font-size="14" text-anchor="middle" fill="#111" >anti-IL-18</text>
<text transform="translate(381.50,766.20) rotate(-90)" font-size="14.15" text-anchor="middle" fill="#111">CD4<tspan dy="-6" font-size="10">+</tspan><tspan dy="6"> IFN</tspan><tspan dy="0" font-size="12" fill="#555">γ</tspan><tspan dy="-6" font-size="10">+</tspan><tspan dy="6"> cells (%)</tspan></text>
<path d="M412.10 721.16V717.36H433.10V721.16" stroke="#1e1e1e" stroke-width="1.1" fill="none"/>
<text x="422.60" y="715.36" font-size="11" text-anchor="middle" fill="#111" ><tspan font-style="italic">P</tspan>=0.0004</text>
<path d="M412.10 733.73V729.93H489.10V733.73M468.10 729.93v3.8" stroke="#1e1e1e" stroke-width="1.1" fill="none"/>
<text x="440.10" y="727.93" font-size="11" text-anchor="middle" fill="#111" >ns</text>
<text x="478.60" y="727.93" font-size="11" text-anchor="middle" fill="#111" >ns</text>
<path d="M433.10 748.75V744.95H489.10V748.75" stroke="#1e1e1e" stroke-width="1.1" fill="none"/>
<text x="461.10" y="742.95" font-size="11" text-anchor="middle" fill="#111" ><tspan font-style="italic">P</tspan>&lt;0.0001</text>
<text transform="translate(365.00,693.90) scale(1,1.09)" font-size="13.5" font-weight="bold" fill="#111">s</text>
<rect x="582.70" y="814.23" width="13.00" height="2.67" fill="rgb(131,131,244)" fill-opacity="0.55" stroke="#5858fc" stroke-width="1.25"/>
<path d="M610.20 759.81V786.48" stroke="#ef4040" stroke-width="1.05" fill="none"/>
<path d="M606.80 759.81H613.60M606.80 786.48H613.60" stroke="#ef4040" stroke-width="1.25" fill="none"/>
<rect x="603.70" y="773.15" width="13.00" height="43.75" fill="rgb(237,191,193)" fill-opacity="0.55" stroke="#ef4040" stroke-width="1.25"/>
<rect x="638.70" y="814.53" width="13.00" height="2.37" fill="rgb(131,131,244)" fill-opacity="0.55" stroke="#5858fc" stroke-width="1.25"/>
<rect x="659.70" y="814.69" width="13.00" height="2.21" fill="rgb(237,191,193)" fill-opacity="0.55" stroke="#ef4040" stroke-width="1.25"/>
<circle cx="584.50" cy="813.92" r="2.25" fill="#5555f5"/>
<circle cx="587.26" cy="811.93" r="2.25" fill="#5555f5"/>
<circle cx="589.20" cy="813.00" r="2.25" fill="#5555f5"/>
<circle cx="593.39" cy="813.92" r="2.25" fill="#5555f5"/>
<circle cx="589.20" cy="814.53" r="2.25" fill="#5555f5"/>
<rect x="608.00" y="728.03" width="4.4" height="4.4" fill="#e83238"/>
<rect x="608.00" y="755.00" width="4.4" height="4.4" fill="#e83238"/>
<rect x="603.20" y="790.87" width="4.4" height="4.4" fill="#e83238"/>
<rect x="608.00" y="788.27" width="4.4" height="4.4" fill="#e83238"/>
<rect x="612.35" y="788.73" width="4.4" height="4.4" fill="#e83238"/>
<circle cx="640.61" cy="814.23" r="2.25" fill="#5555f5"/>
<circle cx="645.20" cy="813.46" r="2.25" fill="#5555f5"/>
<circle cx="647.04" cy="813.92" r="2.25" fill="#5555f5"/>
<circle cx="650.00" cy="814.53" r="2.25" fill="#5555f5"/>
<circle cx="642.45" cy="814.69" r="2.25" fill="#5555f5"/>
<rect x="659.20" y="812.49" width="4.4" height="4.4" fill="#e83238"/>
<rect x="661.71" y="812.33" width="4.4" height="4.4" fill="#e83238"/>
<rect x="664.00" y="812.33" width="4.4" height="4.4" fill="#e83238"/>
<rect x="667.84" y="812.49" width="4.4" height="4.4" fill="#e83238"/>
<rect x="664.00" y="812.64" width="4.4" height="4.4" fill="#e83238"/>
<path d="M575.20 712.30V816.90M571.60 816.90H680.70M599.70 816.90v3.6M655.70 816.90v3.6" stroke="#1e1e1e" stroke-width="1.3" fill="none"/>
<text x="569.40" y="821.90" font-size="14" text-anchor="end" fill="#111" >0</text>
<path d="M571.60 782.03H575.20" stroke="#1e1e1e" stroke-width="1.3"/>
<text x="569.40" y="787.03" font-size="14" text-anchor="end" fill="#111" >1</text>
<path d="M571.60 747.17H575.20" stroke="#1e1e1e" stroke-width="1.3"/>
<text x="569.40" y="752.17" font-size="14" text-anchor="end" fill="#111" >2</text>
<path d="M571.60 712.30H575.20" stroke="#1e1e1e" stroke-width="1.3"/>
<text x="569.40" y="717.30" font-size="14" text-anchor="end" fill="#111" >3</text>
<text x="599.70" y="834.70" font-size="14" text-anchor="middle" fill="#111" >isotype</text>
<text x="654.10" y="834.70" font-size="14" text-anchor="middle" fill="#111" >anti-IL-18</text>
<text transform="translate(558.60,766.20) rotate(-90)" font-size="14.15" text-anchor="middle" fill="#111">CD4<tspan dy="-6" font-size="10">+</tspan><tspan dy="6"> GZMB</tspan><tspan dy="-6" font-size="10">+</tspan><tspan dy="6"> cells (%)</tspan></text>
<path d="M589.20 697.40V693.60H610.20V697.40" stroke="#1e1e1e" stroke-width="1.1" fill="none"/>
<text x="599.70" y="691.60" font-size="11" text-anchor="middle" fill="#111" ><tspan font-style="italic">P</tspan>=0.0012</text>
<path d="M589.20 709.66V705.86H666.20V709.66M645.20 705.86v3.8" stroke="#1e1e1e" stroke-width="1.1" fill="none"/>
<text x="617.20" y="703.86" font-size="11" text-anchor="middle" fill="#111" >ns</text>
<text x="655.70" y="703.86" font-size="11" text-anchor="middle" fill="#111" >ns</text>
<path d="M610.20 724.99V721.19H666.20V724.99" stroke="#1e1e1e" stroke-width="1.1" fill="none"/>
<text x="638.20" y="719.19" font-size="11" text-anchor="middle" fill="#111" ><tspan font-style="italic">P</tspan>=0.0008</text>
<text transform="translate(544.00,693.90) scale(1,1.09)" font-size="13.5" font-weight="bold" fill="#111">t</text>
<path d="M57.00 956.34V964.00" stroke="#5858fc" stroke-width="1.05" fill="none"/>
<path d="M53.60 956.34H60.40M53.60 964.00H60.40" stroke="#5858fc" stroke-width="1.25" fill="none"/>
<rect x="50.50" y="960.17" width="13.00" height="28.03" fill="rgb(131,131,244)" fill-opacity="0.55" stroke="#5858fc" stroke-width="1.25"/>
<path d="M78.00 920.31V928.90" stroke="#ef4040" stroke-width="1.05" fill="none"/>
<path d="M74.60 920.31H81.40M74.60 928.90H81.40" stroke="#ef4040" stroke-width="1.25" fill="none"/>
<rect x="71.50" y="924.61" width="13.00" height="63.59" fill="rgb(237,191,193)" fill-opacity="0.55" stroke="#ef4040" stroke-width="1.25"/>
<path d="M113.00 974.73V978.72" stroke="#5858fc" stroke-width="1.05" fill="none"/>
<path d="M109.60 974.73H116.40M109.60 978.72H116.40" stroke="#5858fc" stroke-width="1.25" fill="none"/>
<rect x="106.50" y="976.72" width="13.00" height="11.48" fill="rgb(131,131,244)" fill-opacity="0.55" stroke="#5858fc" stroke-width="1.25"/>
<path d="M134.00 968.14V975.19" stroke="#ef4040" stroke-width="1.05" fill="none"/>
<path d="M130.60 968.14H137.40M130.60 975.19H137.40" stroke="#ef4040" stroke-width="1.25" fill="none"/>
<rect x="127.50" y="971.66" width="13.00" height="16.54" fill="rgb(237,191,193)" fill-opacity="0.55" stroke="#ef4040" stroke-width="1.25"/>
<circle cx="52.50" cy="951.74" r="2.25" fill="#5555f5"/>
<circle cx="61.80" cy="954.80" r="2.25" fill="#5555f5"/>
<circle cx="52.50" cy="960.93" r="2.25" fill="#5555f5"/>
<circle cx="61.80" cy="961.39" r="2.25" fill="#5555f5"/>
<circle cx="57.00" cy="973.20" r="2.25" fill="#5555f5"/>
<rect x="71.15" y="913.21" width="4.4" height="4.4" fill="#e83238"/>
<rect x="80.60" y="913.82" width="4.4" height="4.4" fill="#e83238"/>
<rect x="71.15" y="921.95" width="4.4" height="4.4" fill="#e83238"/>
<rect x="80.60" y="925.78" width="4.4" height="4.4" fill="#e83238"/>
<rect x="75.80" y="934.98" width="4.4" height="4.4" fill="#e83238"/>
<circle cx="108.20" cy="973.66" r="2.25" fill="#5555f5"/>
<circle cx="117.80" cy="972.43" r="2.25" fill="#5555f5"/>
<circle cx="113.00" cy="976.72" r="2.25" fill="#5555f5"/>
<circle cx="108.20" cy="980.09" r="2.25" fill="#5555f5"/>
<circle cx="117.80" cy="978.56" r="2.25" fill="#5555f5"/>
<rect x="131.80" y="957.20" width="4.4" height="4.4" fill="#e83238"/>
<rect x="131.80" y="962.57" width="4.4" height="4.4" fill="#e83238"/>
<rect x="127.41" y="971.76" width="4.4" height="4.4" fill="#e83238"/>
<rect x="136.60" y="972.07" width="4.4" height="4.4" fill="#e83238"/>
<rect x="127.41" y="976.67" width="4.4" height="4.4" fill="#e83238"/>
<path d="M43.00 883.80V988.20M39.40 988.20H148.50M67.50 988.20v3.6M123.50 988.20v3.6" stroke="#1e1e1e" stroke-width="1.3" fill="none"/>
<text x="37.20" y="993.20" font-size="14" text-anchor="end" fill="#111" >0</text>
<path d="M39.40 967.32H43.00" stroke="#1e1e1e" stroke-width="1.3"/>
<text x="37.20" y="972.32" font-size="14" text-anchor="end" fill="#111" >5</text>
<path d="M39.40 946.44H43.00" stroke="#1e1e1e" stroke-width="1.3"/>
<text x="37.20" y="951.44" font-size="14" text-anchor="end" fill="#111" >10</text>
<path d="M39.40 925.56H43.00" stroke="#1e1e1e" stroke-width="1.3"/>
<text x="37.20" y="930.56" font-size="14" text-anchor="end" fill="#111" >15</text>
<path d="M39.40 904.68H43.00" stroke="#1e1e1e" stroke-width="1.3"/>
<text x="37.20" y="909.68" font-size="14" text-anchor="end" fill="#111" >20</text>
<path d="M39.40 883.80H43.00" stroke="#1e1e1e" stroke-width="1.3"/>
<text x="37.20" y="888.80" font-size="14" text-anchor="end" fill="#111" >25</text>
<text x="67.50" y="1006.00" font-size="14" text-anchor="middle" fill="#111" >isotype</text>
<text x="123.50" y="1006.00" font-size="14" text-anchor="middle" fill="#111" >anti-IL-18</text>
<text transform="translate(19.00,937.60) rotate(-90)" font-size="14.15" text-anchor="middle" fill="#111">CD8<tspan dy="-6" font-size="10">+</tspan><tspan dy="6"> cells (%)</tspan></text>
<path d="M57.00 878.59V874.79H113.00V878.59" stroke="#1e1e1e" stroke-width="1.1" fill="none"/>
<text x="85.00" y="872.79" font-size="11" text-anchor="middle" fill="#111" ><tspan font-style="italic">P</tspan>=0.0157</text>
<path d="M78.00 894.38V890.58H134.00V894.38" stroke="#1e1e1e" stroke-width="1.1" fill="none"/>
<text x="106.00" y="888.58" font-size="11" text-anchor="middle" fill="#111" ><tspan font-style="italic">P</tspan>&lt;0.0001</text>
<path d="M57.00 908.18V904.38H78.00V908.18" stroke="#1e1e1e" stroke-width="1.1" fill="none"/>
<text x="67.50" y="902.38" font-size="11" text-anchor="middle" fill="#111" ><tspan font-style="italic">P</tspan>&lt;0.0001</text>
<path d="M113.00 908.18V904.38H134.00V908.18" stroke="#1e1e1e" stroke-width="1.1" fill="none"/>
<text x="123.50" y="902.38" font-size="11" text-anchor="middle" fill="#111" >ns</text>
<text transform="translate(9.00,864.80) scale(1,1.09)" font-size="13.5" font-weight="bold" fill="#111">u</text>
<text x="95.00" y="861.80" font-size="14" text-anchor="middle" fill="#111" >CD8<tspan dy="-6" font-size="10">+</tspan><tspan dy="6"> T cells</tspan></text>
<path d="M235.00 955.88V963.85" stroke="#5858fc" stroke-width="1.05" fill="none"/>
<path d="M231.60 955.88H238.40M231.60 963.85H238.40" stroke="#5858fc" stroke-width="1.25" fill="none"/>
<rect x="228.50" y="959.86" width="13.00" height="28.34" fill="rgb(131,131,244)" fill-opacity="0.55" stroke="#5858fc" stroke-width="1.25"/>
<path d="M256.00 929.82V941.47" stroke="#ef4040" stroke-width="1.05" fill="none"/>
<path d="M252.60 929.82H259.40M252.60 941.47H259.40" stroke="#ef4040" stroke-width="1.25" fill="none"/>
<rect x="249.50" y="935.64" width="13.00" height="52.56" fill="rgb(237,191,193)" fill-opacity="0.55" stroke="#ef4040" stroke-width="1.25"/>
<path d="M291.00 974.73V978.72" stroke="#5858fc" stroke-width="1.05" fill="none"/>
<path d="M287.60 974.73H294.40M287.60 978.72H294.40" stroke="#5858fc" stroke-width="1.25" fill="none"/>
<rect x="284.50" y="976.72" width="13.00" height="11.48" fill="rgb(131,131,244)" fill-opacity="0.55" stroke="#5858fc" stroke-width="1.25"/>
<path d="M312.00 970.13V977.18" stroke="#ef4040" stroke-width="1.05" fill="none"/>
<path d="M308.60 970.13H315.40M308.60 977.18H315.40" stroke="#ef4040" stroke-width="1.25" fill="none"/>
<rect x="305.50" y="973.66" width="13.00" height="14.54" fill="rgb(237,191,193)" fill-opacity="0.55" stroke="#ef4040" stroke-width="1.25"/>
<circle cx="235.00" cy="949.74" r="2.25" fill="#5555f5"/>
<circle cx="230.20" cy="955.57" r="2.25" fill="#5555f5"/>
<circle cx="239.70" cy="955.57" r="2.25" fill="#5555f5"/>
<circle cx="235.00" cy="964.00" r="2.25" fill="#5555f5"/>
<circle cx="235.00" cy="971.66" r="2.25" fill="#5555f5"/>
<rect x="253.80" y="919.34" width="4.4" height="4.4" fill="#e83238"/>
<rect x="249.15" y="929.15" width="4.4" height="4.4" fill="#e83238"/>
<rect x="258.35" y="927.62" width="4.4" height="4.4" fill="#e83238"/>
<rect x="253.80" y="935.28" width="4.4" height="4.4" fill="#e83238"/>
<rect x="253.80" y="954.14" width="4.4" height="4.4" fill="#e83238"/>
<circle cx="295.80" cy="970.13" r="2.25" fill="#5555f5"/>
<circle cx="286.20" cy="973.66" r="2.25" fill="#5555f5"/>
<circle cx="291.00" cy="975.19" r="2.25" fill="#5555f5"/>
<circle cx="295.80" cy="977.03" r="2.25" fill="#5555f5"/>
<circle cx="286.20" cy="980.86" r="2.25" fill="#5555f5"/>
<rect x="314.14" y="963.33" width="4.4" height="4.4" fill="#e83238"/>
<rect x="305.00" y="965.94" width="4.4" height="4.4" fill="#e83238"/>
<rect x="305.00" y="971.76" width="4.4" height="4.4" fill="#e83238"/>
<rect x="314.14" y="976.06" width="4.4" height="4.4" fill="#e83238"/>
<rect x="305.00" y="978.20" width="4.4" height="4.4" fill="#e83238"/>
<path d="M221.00 883.80V988.20M217.40 988.20H326.50M245.50 988.20v3.6M301.50 988.20v3.6" stroke="#1e1e1e" stroke-width="1.3" fill="none"/>
<text x="215.20" y="993.20" font-size="14" text-anchor="end" fill="#111" >0</text>
<path d="M217.40 953.40H221.00" stroke="#1e1e1e" stroke-width="1.3"/>
<text x="215.20" y="958.40" font-size="14" text-anchor="end" fill="#111" >5</text>
<path d="M217.40 918.60H221.00" stroke="#1e1e1e" stroke-width="1.3"/>
<text x="215.20" y="923.60" font-size="14" text-anchor="end" fill="#111" >10</text>
<path d="M217.40 883.80H221.00" stroke="#1e1e1e" stroke-width="1.3"/>
<text x="215.20" y="888.80" font-size="14" text-anchor="end" fill="#111" >15</text>
<text x="245.50" y="1006.00" font-size="14" text-anchor="middle" fill="#111" >isotype</text>
<text x="301.50" y="1006.00" font-size="14" text-anchor="middle" fill="#111" >anti-IL-18</text>
<text transform="translate(198.40,937.60) rotate(-90)" font-size="14.15" text-anchor="middle" fill="#111">CD8<tspan dy="-6" font-size="10">+</tspan><tspan dy="6"> CD69</tspan><tspan dy="-6" font-size="10">+</tspan><tspan dy="6"> cells (%)</tspan></text>
<path d="M235.00 885.80V882.00H291.00V885.80" stroke="#1e1e1e" stroke-width="1.1" fill="none"/>
<text x="263.00" y="880.00" font-size="11" text-anchor="middle" fill="#111" ><tspan font-style="italic">P</tspan>=0.0417</text>
<path d="M256.00 898.98V895.18H312.00V898.98" stroke="#1e1e1e" stroke-width="1.1" fill="none"/>
<text x="284.00" y="893.18" font-size="11" text-anchor="middle" fill="#111" ><tspan font-style="italic">P</tspan>&lt;0.0001</text>
<path d="M235.00 915.38V911.58H256.00V915.38" stroke="#1e1e1e" stroke-width="1.1" fill="none"/>
<text x="245.50" y="909.58" font-size="11" text-anchor="middle" fill="#111" ><tspan font-style="italic">P</tspan>=0.0023</text>
<path d="M291.00 915.38V911.58H312.00V915.38" stroke="#1e1e1e" stroke-width="1.1" fill="none"/>
<text x="301.50" y="909.58" font-size="11" text-anchor="middle" fill="#111" >ns</text>
<text transform="translate(187.90,866.30) scale(1,1.09)" font-size="13.5" font-weight="bold" fill="#111">v</text>
<text x="274.40" y="861.80" font-size="14" text-anchor="middle" fill="#111" >Activated CD8<tspan dy="-6" font-size="10">+</tspan><tspan dy="6"> T cells</tspan></text>
<path d="M412.10 976.72V979.79" stroke="#5858fc" stroke-width="1.05" fill="none"/>
<path d="M408.70 976.72H415.50M408.70 979.79H415.50" stroke="#5858fc" stroke-width="1.25" fill="none"/>
<rect x="405.60" y="978.26" width="13.00" height="9.94" fill="rgb(131,131,244)" fill-opacity="0.55" stroke="#5858fc" stroke-width="1.25"/>
<path d="M433.10 938.40V956.80" stroke="#ef4040" stroke-width="1.05" fill="none"/>
<path d="M429.70 938.40H436.50M429.70 956.80H436.50" stroke="#ef4040" stroke-width="1.25" fill="none"/>
<rect x="426.60" y="947.60" width="13.00" height="40.60" fill="rgb(237,191,193)" fill-opacity="0.55" stroke="#ef4040" stroke-width="1.25"/>
<path d="M468.10 970.13V974.12" stroke="#5858fc" stroke-width="1.05" fill="none"/>
<path d="M464.70 970.13H471.50M464.70 974.12H471.50" stroke="#5858fc" stroke-width="1.25" fill="none"/>
<rect x="461.60" y="972.12" width="13.00" height="16.08" fill="rgb(131,131,244)" fill-opacity="0.55" stroke="#5858fc" stroke-width="1.25"/>
<path d="M489.10 979.33V983.93" stroke="#ef4040" stroke-width="1.05" fill="none"/>
<path d="M485.70 979.33H492.50M485.70 983.93H492.50" stroke="#ef4040" stroke-width="1.25" fill="none"/>
<rect x="482.60" y="981.63" width="13.00" height="6.57" fill="rgb(237,191,193)" fill-opacity="0.55" stroke="#ef4040" stroke-width="1.25"/>
<circle cx="412.10" cy="972.74" r="2.25" fill="#5555f5"/>
<circle cx="407.30" cy="977.34" r="2.25" fill="#5555f5"/>
<circle cx="416.70" cy="978.87" r="2.25" fill="#5555f5"/>
<circle cx="412.10" cy="978.26" r="2.25" fill="#5555f5"/>
<circle cx="407.50" cy="982.39" r="2.25" fill="#5555f5"/>
<rect x="430.90" y="922.41" width="4.4" height="4.4" fill="#e83238"/>
<rect x="430.90" y="927.62" width="4.4" height="4.4" fill="#e83238"/>
<rect x="430.90" y="944.94" width="4.4" height="4.4" fill="#e83238"/>
<rect x="426.15" y="965.33" width="4.4" height="4.4" fill="#e83238"/>
<rect x="435.35" y="962.26" width="4.4" height="4.4" fill="#e83238"/>
<circle cx="468.10" cy="965.53" r="2.25" fill="#5555f5"/>
<circle cx="463.30" cy="970.59" r="2.25" fill="#5555f5"/>
<circle cx="472.80" cy="972.43" r="2.25" fill="#5555f5"/>
<circle cx="468.10" cy="972.43" r="2.25" fill="#5555f5"/>
<circle cx="468.10" cy="980.86" r="2.25" fill="#5555f5"/>
<rect x="486.90" y="973.30" width="4.4" height="4.4" fill="#e83238"/>
<rect x="486.90" y="977.13" width="4.4" height="4.4" fill="#e83238"/>
<rect x="482.10" y="980.19" width="4.4" height="4.4" fill="#e83238"/>
<rect x="491.14" y="977.89" width="4.4" height="4.4" fill="#e83238"/>
<rect x="486.90" y="979.43" width="4.4" height="4.4" fill="#e83238"/>
<path d="M398.10 883.80V988.20M394.50 988.20H503.60M422.60 988.20v3.6M478.60 988.20v3.6" stroke="#1e1e1e" stroke-width="1.3" fill="none"/>
<text x="392.30" y="993.20" font-size="14" text-anchor="end" fill="#111" >0</text>
<path d="M394.50 953.40H398.10" stroke="#1e1e1e" stroke-width="1.3"/>
<text x="392.30" y="958.40" font-size="14" text-anchor="end" fill="#111" >1</text>
<path d="M394.50 918.60H398.10" stroke="#1e1e1e" stroke-width="1.3"/>
<text x="392.30" y="923.60" font-size="14" text-anchor="end" fill="#111" >2</text>
<path d="M394.50 883.80H398.10" stroke="#1e1e1e" stroke-width="1.3"/>
<text x="392.30" y="888.80" font-size="14" text-anchor="end" fill="#111" >3</text>
<text x="422.60" y="1006.00" font-size="14" text-anchor="middle" fill="#111" >isotype</text>
<text x="478.60" y="1006.00" font-size="14" text-anchor="middle" fill="#111" >anti-IL-18</text>
<text transform="translate(381.80,937.60) rotate(-90)" font-size="14.15" text-anchor="middle" fill="#111">CD8<tspan dy="-6" font-size="10">+</tspan><tspan dy="6"> IFN</tspan><tspan dy="0" font-size="12" fill="#555">γ</tspan><tspan dy="-6" font-size="10">+</tspan><tspan dy="6"> cells (%)</tspan></text>
<path d="M412.10 892.39V888.59H433.10V892.39" stroke="#1e1e1e" stroke-width="1.1" fill="none"/>
<text x="422.60" y="886.59" font-size="11" text-anchor="middle" fill="#111" ><tspan font-style="italic">P</tspan>=0.0010</text>
<path d="M412.10 903.12V899.32H489.10V903.12M468.10 899.32v3.8" stroke="#1e1e1e" stroke-width="1.1" fill="none"/>
<text x="440.10" y="897.32" font-size="11" text-anchor="middle" fill="#111" >ns</text>
<text x="478.60" y="897.32" font-size="11" text-anchor="middle" fill="#111" >ns</text>
<path d="M433.10 917.68V913.88H489.10V917.68" stroke="#1e1e1e" stroke-width="1.1" fill="none"/>
<text x="461.10" y="911.88" font-size="11" text-anchor="middle" fill="#111" ><tspan font-style="italic">P</tspan>=0.0005</text>
<text transform="translate(363.80,864.80) scale(1,1.09)" font-size="13.5" font-weight="bold" fill="#111">w</text>
<path d="M589.60 956.34V968.60" stroke="#5858fc" stroke-width="1.05" fill="none"/>
<path d="M586.20 956.34H593.00M586.20 968.60H593.00" stroke="#5858fc" stroke-width="1.25" fill="none"/>
<rect x="583.10" y="962.47" width="13.00" height="25.73" fill="rgb(131,131,244)" fill-opacity="0.55" stroke="#5858fc" stroke-width="1.25"/>
<path d="M610.60 938.40V951.89" stroke="#ef4040" stroke-width="1.05" fill="none"/>
<path d="M607.20 938.40H614.00M607.20 951.89H614.00" stroke="#ef4040" stroke-width="1.25" fill="none"/>
<rect x="604.10" y="945.15" width="13.00" height="43.05" fill="rgb(237,191,193)" fill-opacity="0.55" stroke="#ef4040" stroke-width="1.25"/>
<rect x="639.10" y="985.92" width="13.00" height="2.28" fill="rgb(131,131,244)" fill-opacity="0.55" stroke="#5858fc" stroke-width="1.25"/>
<path d="M666.60 979.33V983.93" stroke="#ef4040" stroke-width="1.05" fill="none"/>
<path d="M663.20 979.33H670.00M663.20 983.93H670.00" stroke="#ef4040" stroke-width="1.25" fill="none"/>
<rect x="660.10" y="981.63" width="13.00" height="6.57" fill="rgb(237,191,193)" fill-opacity="0.55" stroke="#ef4040" stroke-width="1.25"/>
<circle cx="589.60" cy="947.91" r="2.25" fill="#5555f5"/>
<circle cx="589.60" cy="953.27" r="2.25" fill="#5555f5"/>
<circle cx="589.60" cy="957.10" r="2.25" fill="#5555f5"/>
<circle cx="589.60" cy="968.60" r="2.25" fill="#5555f5"/>
<circle cx="589.60" cy="982.39" r="2.25" fill="#5555f5"/>
<rect x="608.40" y="918.88" width="4.4" height="4.4" fill="#e83238"/>
<rect x="603.60" y="942.95" width="4.4" height="4.4" fill="#e83238"/>
<rect x="612.96" y="944.48" width="4.4" height="4.4" fill="#e83238"/>
<rect x="608.40" y="946.47" width="4.4" height="4.4" fill="#e83238"/>
<rect x="608.40" y="956.74" width="4.4" height="4.4" fill="#e83238"/>
<circle cx="640.80" cy="985.92" r="2.25" fill="#5555f5"/>
<circle cx="645.60" cy="985.61" r="2.25" fill="#5555f5"/>
<circle cx="645.60" cy="985.92" r="2.25" fill="#5555f5"/>
<circle cx="650.11" cy="985.92" r="2.25" fill="#5555f5"/>
<circle cx="645.60" cy="986.20" r="2.25" fill="#5555f5"/>
<rect x="659.60" y="972.99" width="4.4" height="4.4" fill="#e83238"/>
<rect x="664.40" y="973.60" width="4.4" height="4.4" fill="#e83238"/>
<rect x="664.40" y="977.89" width="4.4" height="4.4" fill="#e83238"/>
<rect x="669.06" y="979.43" width="4.4" height="4.4" fill="#e83238"/>
<rect x="659.60" y="980.65" width="4.4" height="4.4" fill="#e83238"/>
<path d="M575.60 883.80V988.20M572.00 988.20H681.10M600.10 988.20v3.6M656.10 988.20v3.6" stroke="#1e1e1e" stroke-width="1.3" fill="none"/>
<text x="569.80" y="993.20" font-size="14" text-anchor="end" fill="#111" >0</text>
<path d="M572.00 967.32H575.60" stroke="#1e1e1e" stroke-width="1.3"/>
<text x="569.80" y="972.32" font-size="14" text-anchor="end" fill="#111" >2</text>
<path d="M572.00 946.44H575.60" stroke="#1e1e1e" stroke-width="1.3"/>
<text x="569.80" y="951.44" font-size="14" text-anchor="end" fill="#111" >4</text>
<path d="M572.00 925.56H575.60" stroke="#1e1e1e" stroke-width="1.3"/>
<text x="569.80" y="930.56" font-size="14" text-anchor="end" fill="#111" >6</text>
<path d="M572.00 904.68H575.60" stroke="#1e1e1e" stroke-width="1.3"/>
<text x="569.80" y="909.68" font-size="14" text-anchor="end" fill="#111" >8</text>
<path d="M572.00 883.80H575.60" stroke="#1e1e1e" stroke-width="1.3"/>
<text x="569.80" y="888.80" font-size="14" text-anchor="end" fill="#111" >10</text>
<text x="600.10" y="1006.00" font-size="14" text-anchor="middle" fill="#111" >isotype</text>
<text x="654.50" y="1006.00" font-size="14" text-anchor="middle" fill="#111" >anti-IL-18</text>
<text transform="translate(553.30,937.60) rotate(-90)" font-size="14.15" text-anchor="middle" fill="#111">CD8<tspan dy="-6" font-size="10">+</tspan><tspan dy="6"> GZMB</tspan><tspan dy="-6" font-size="10">+</tspan><tspan dy="6"> cells (%)</tspan></text>
<path d="M589.60 885.19V881.39H645.60V885.19" stroke="#1e1e1e" stroke-width="1.1" fill="none"/>
<text x="617.60" y="879.39" font-size="11" text-anchor="middle" fill="#111" ><tspan font-style="italic">P</tspan>=0.0073</text>
<path d="M610.60 899.29V895.49H666.60V899.29" stroke="#1e1e1e" stroke-width="1.1" fill="none"/>
<text x="638.60" y="893.49" font-size="11" text-anchor="middle" fill="#111" ><tspan font-style="italic">P</tspan>=0.0002</text>
<path d="M589.60 914.31V910.51H610.60V914.31" stroke="#1e1e1e" stroke-width="1.1" fill="none"/>
<text x="600.10" y="908.51" font-size="11" text-anchor="middle" fill="#111" ><tspan font-style="italic">P</tspan>=0.0330</text>
<path d="M645.60 914.31V910.51H666.60V914.31" stroke="#1e1e1e" stroke-width="1.1" fill="none"/>
<text x="656.10" y="908.51" font-size="11" text-anchor="middle" fill="#111" >ns</text>
<text transform="translate(542.70,864.80) scale(1,1.09)" font-size="13.5" font-weight="bold" fill="#111">x</text>
<text transform="translate(9.50,18.00) scale(1,1.09)" font-size="13.5" font-weight="bold" fill="#111">a</text>
<text transform="translate(7.20,527.90) scale(1,1.09)" font-size="13.5" font-weight="bold" fill="#111">m</text>
<g transform="translate(0.00,0.00)"><path d="M1.8 88.3C2.8 86.8 4.6 84.9 6.6 84.2C8.6 83.9 10 84.6 11.6 84.9C14 85.4 15.4 87.8 15.3 90.6C15.2 93.2 14.4 94.6 12.8 94.6L6.2 94.6L6.5 93.4L7.9 92.6L7.4 91.4L4.4 91.8L4.3 91L6 90.2L4.2 89.6Z" fill="#000"/><circle cx="7.7" cy="83.7" r="1.4" fill="#000"/><path d="M14.5 94.4C17 94.4 20 94.3 21.2 93.6C21.9 93 21.9 91.2 21.4 90.2" stroke="#888" stroke-width="0.6" fill="none"/></g>
<path d="M25.00 92.40H161.00" stroke="#e8763a" stroke-width="1.5"/>
<path d="M160.20 87.90L169.30 92.30L160.20 96.70Z" fill="#e8763a"/>
<path d="M28.60 96.60V87.60H143.10V96.60M94.50 78.90V96.60" stroke="#44c04c" stroke-width="1.5" fill="none"/>
<path d="M43.10 78.60V96.40M157.90 88.30V96.40" stroke="#111" stroke-width="1.3" fill="none"/>
<text x="16.00" y="68.60" font-size="12" text-anchor="start" fill="#111" >B16-F10</text>
<text x="73.80" y="68.60" font-size="12" text-anchor="start" fill="#111" >anti-IL-1<tspan dx="0.58" dy="1.03" font-size="11.5" fill="#505050">β</tspan><tspan dy="-1.035"></tspan></text>
<text x="0.80" y="106.80" font-size="11.5" text-anchor="start" fill="#111" >Day</text>
<text x="28.50" y="106.80" font-size="11.5" text-anchor="middle" fill="#111" >-1</text>
<text x="43.10" y="106.80" font-size="11.5" text-anchor="middle" fill="#111" >0</text>
<text x="94.50" y="106.80" font-size="11.5" text-anchor="middle" fill="#111" >6</text>
<text x="143.40" y="106.80" font-size="11.5" text-anchor="middle" fill="#111" >13</text>
<text x="158.20" y="106.80" font-size="11.5" text-anchor="middle" fill="#111" >14</text>
<g transform="translate(1.30,510.50)"><path d="M1.8 88.3C2.8 86.8 4.6 84.9 6.6 84.2C8.6 83.9 10 84.6 11.6 84.9C14 85.4 15.4 87.8 15.3 90.6C15.2 93.2 14.4 94.6 12.8 94.6L6.2 94.6L6.5 93.4L7.9 92.6L7.4 91.4L4.4 91.8L4.3 91L6 90.2L4.2 89.6Z" fill="#000"/><circle cx="7.7" cy="83.7" r="1.4" fill="#000"/><path d="M14.5 94.4C17 94.4 20 94.3 21.2 93.6C21.9 93 21.9 91.2 21.4 90.2" stroke="#888" stroke-width="0.6" fill="none"/></g>
<path d="M26.30 602.90H162.30" stroke="#e8763a" stroke-width="1.5"/>
<path d="M161.50 598.40L170.60 602.80L161.50 607.20Z" fill="#e8763a"/>
<path d="M29.90 607.10V598.10H144.40V607.10M95.80 589.40V607.10" stroke="#44c04c" stroke-width="1.5" fill="none"/>
<path d="M44.40 589.10V606.90M159.20 598.80V606.90" stroke="#111" stroke-width="1.3" fill="none"/>
<text x="17.30" y="579.10" font-size="12" text-anchor="start" fill="#111" >B16-F10</text>
<text x="75.10" y="579.10" font-size="12" text-anchor="start" fill="#111" >anti-IL-18</text>
<text x="2.10" y="617.30" font-size="11.5" text-anchor="start" fill="#111" >Day</text>
<text x="29.80" y="617.30" font-size="11.5" text-anchor="middle" fill="#111" >-1</text>
<text x="44.40" y="617.30" font-size="11.5" text-anchor="middle" fill="#111" >0</text>
<text x="95.80" y="617.30" font-size="11.5" text-anchor="middle" fill="#111" >6</text>
<text x="144.70" y="617.30" font-size="11.5" text-anchor="middle" fill="#111" >13</text>
<text x="159.50" y="617.30" font-size="11.5" text-anchor="middle" fill="#111" >14</text>
<circle cx="220.9" cy="6.7" r="2.4" fill="#5252ee"/>
<rect x="218.4" y="15.0" width="5" height="5" fill="#e83238"/>
<text x="246.00" y="10.80" font-size="13.5" text-anchor="start" fill="#111" >WT</text>
<text x="247.50" y="22.60" font-size="13.5" text-anchor="start" fill="#111" ><tspan font-style="italic">Tmem175</tspan></text>
<text x="308.50" y="16.50" font-size="8.5" text-anchor="start" fill="#111" ><tspan font-style="italic">-/-</tspan></text>
</svg></body></html>
